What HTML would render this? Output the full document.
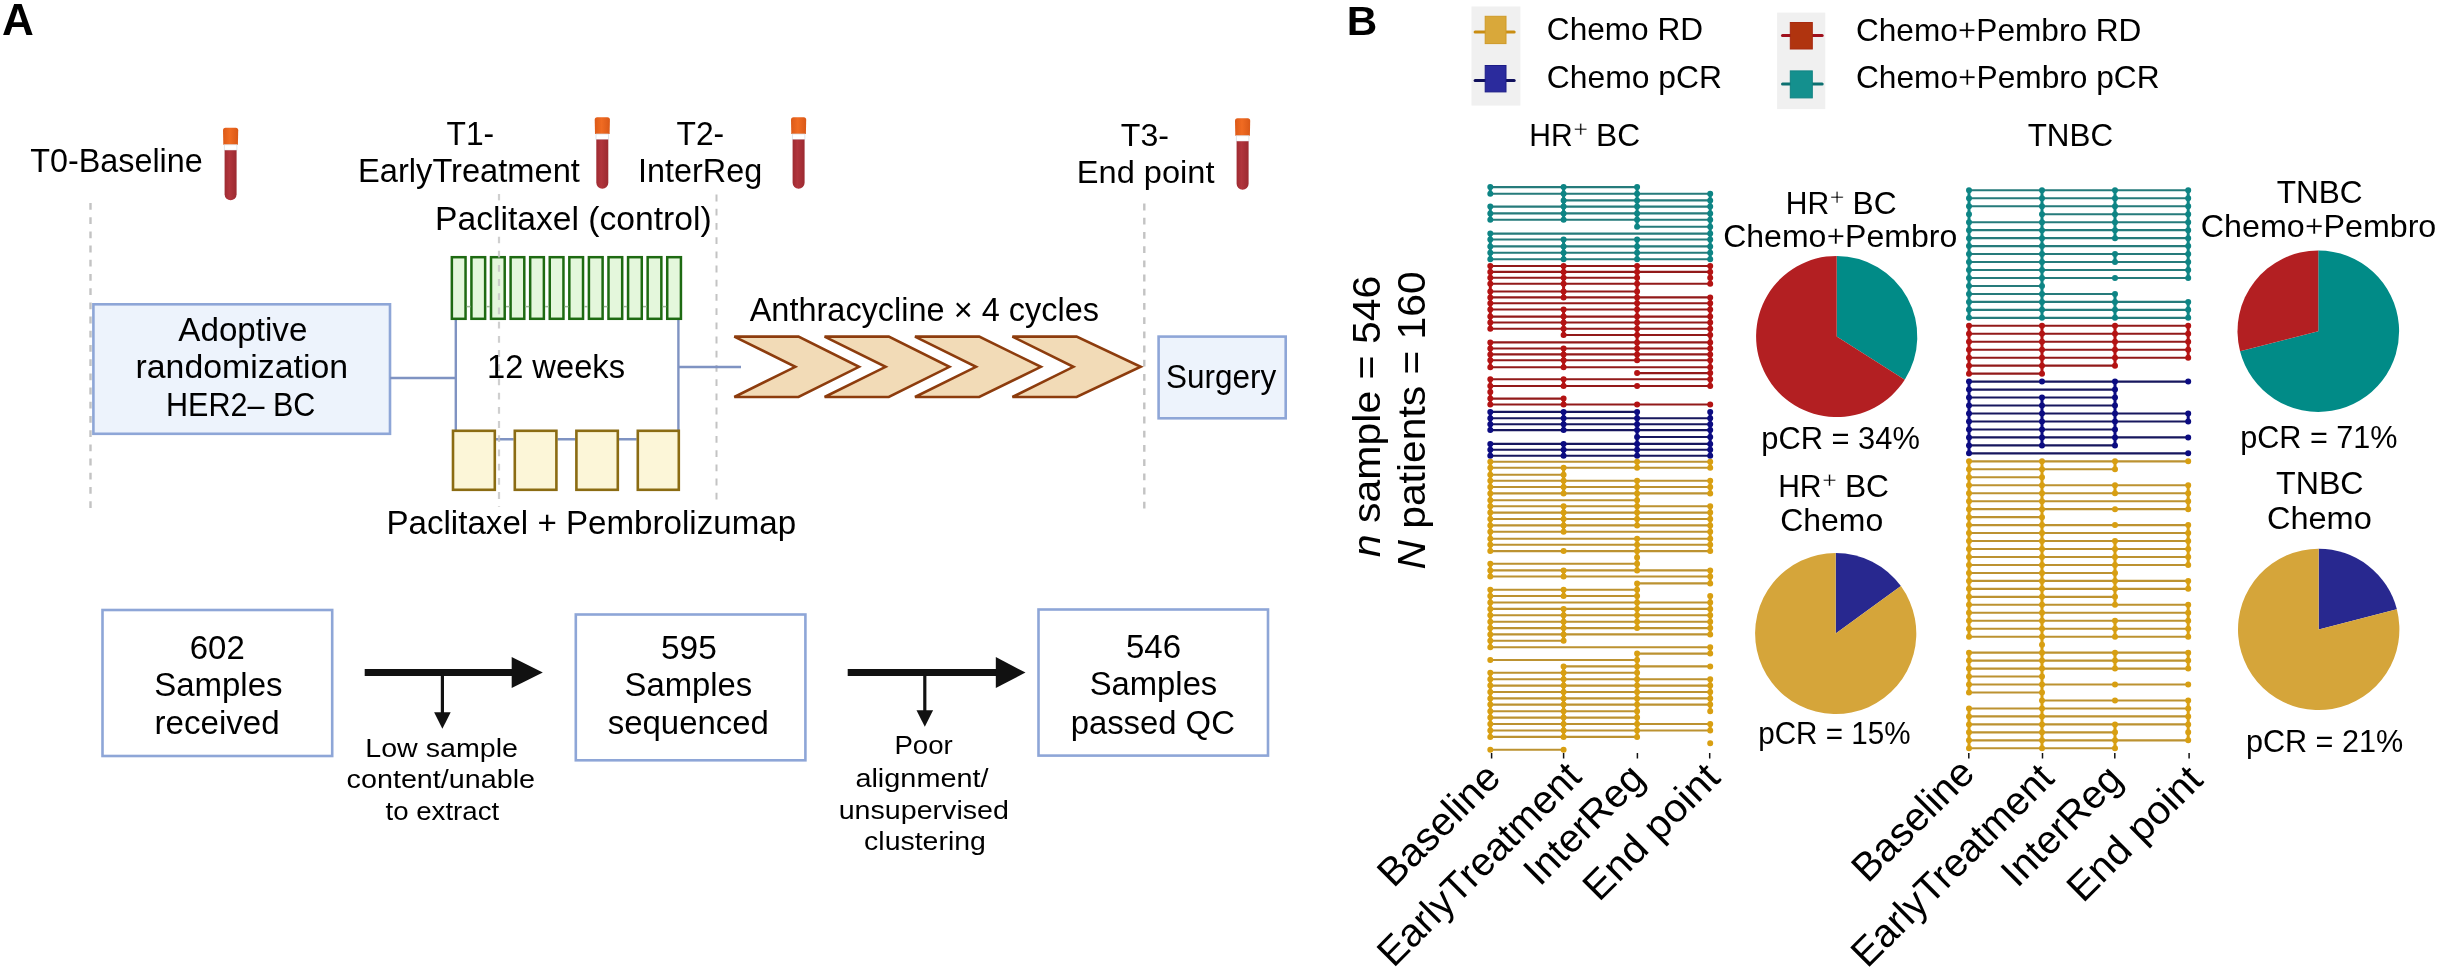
<!DOCTYPE html>
<html><head><meta charset="utf-8"><title>Figure</title>
<style>
html,body{margin:0;padding:0;background:#fff;}
svg{display:block;will-change:transform;}
text{font-family:"Liberation Sans","DejaVu Sans",sans-serif;}
</style></head>
<body>
<svg width="2440" height="973" viewBox="0 0 2440 973">
<defs><linearGradient id="capg" x1="0" x2="1" y1="0" y2="0"><stop offset="0" stop-color="#dc5a18"/><stop offset="0.45" stop-color="#f06b22"/><stop offset="1" stop-color="#d95817"/></linearGradient>
<linearGradient id="bodyg" x1="0" x2="1" y1="0" y2="0"><stop offset="0" stop-color="#9e2b32"/><stop offset="0.4" stop-color="#b1353d"/><stop offset="1" stop-color="#9c2a31"/></linearGradient></defs>
<rect width="2440" height="973" fill="#fff"/>
<line x1="90.5" y1="203" x2="90.5" y2="512" stroke="#c3c3c3" stroke-width="2.4" stroke-dasharray="6.8 7.4" fill="none"/><line x1="1144.3" y1="203.6" x2="1144.3" y2="512" stroke="#c3c3c3" stroke-width="2.4" stroke-dasharray="6.8 7.4" fill="none"/><line x1="716.5" y1="194.6" x2="716.5" y2="506" stroke="#c3c3c3" stroke-width="2.0" stroke-dasharray="6.8 7.4" fill="none"/><rect x="93.4" y="304.3" width="296.6" height="129.5" fill="#edf3fc" stroke="#8ea6d7" stroke-width="2.6"/><path d="M390 378 H455.8 M455.8 320 V430 M678.4 320 V430 M678.4 367 H741" stroke="#7f93c2" stroke-width="2.4" fill="none"/><path d="M496 439.2 H513.6 M557.6 439.2 H575.2 M619 439.2 H636.6" stroke="#7f93c2" stroke-width="2.6" fill="none"/><rect x="451.85" y="257.2" width="13.7" height="61.6" fill="#e4f7dc" stroke="#1e6a12" stroke-width="2.5"/><rect x="471.43" y="257.2" width="13.7" height="61.6" fill="#e4f7dc" stroke="#1e6a12" stroke-width="2.5"/><rect x="491.01" y="257.2" width="13.7" height="61.6" fill="#e4f7dc" stroke="#1e6a12" stroke-width="2.5"/><rect x="510.59" y="257.2" width="13.7" height="61.6" fill="#e4f7dc" stroke="#1e6a12" stroke-width="2.5"/><rect x="530.17" y="257.2" width="13.7" height="61.6" fill="#e4f7dc" stroke="#1e6a12" stroke-width="2.5"/><rect x="549.75" y="257.2" width="13.7" height="61.6" fill="#e4f7dc" stroke="#1e6a12" stroke-width="2.5"/><rect x="569.33" y="257.2" width="13.7" height="61.6" fill="#e4f7dc" stroke="#1e6a12" stroke-width="2.5"/><rect x="588.91" y="257.2" width="13.7" height="61.6" fill="#e4f7dc" stroke="#1e6a12" stroke-width="2.5"/><rect x="608.49" y="257.2" width="13.7" height="61.6" fill="#e4f7dc" stroke="#1e6a12" stroke-width="2.5"/><rect x="628.07" y="257.2" width="13.7" height="61.6" fill="#e4f7dc" stroke="#1e6a12" stroke-width="2.5"/><rect x="647.65" y="257.2" width="13.7" height="61.6" fill="#e4f7dc" stroke="#1e6a12" stroke-width="2.5"/><rect x="667.23" y="257.2" width="13.7" height="61.6" fill="#e4f7dc" stroke="#1e6a12" stroke-width="2.5"/><line x1="466.80" y1="306.6" x2="470.50" y2="306.6" stroke="#9fb89a" stroke-width="1.5"/><line x1="486.38" y1="306.6" x2="490.08" y2="306.6" stroke="#9fb89a" stroke-width="1.5"/><line x1="505.96" y1="306.6" x2="509.66" y2="306.6" stroke="#9fb89a" stroke-width="1.5"/><line x1="525.54" y1="306.6" x2="529.24" y2="306.6" stroke="#9fb89a" stroke-width="1.5"/><line x1="545.12" y1="306.6" x2="548.82" y2="306.6" stroke="#9fb89a" stroke-width="1.5"/><line x1="564.70" y1="306.6" x2="568.40" y2="306.6" stroke="#9fb89a" stroke-width="1.5"/><line x1="584.28" y1="306.6" x2="587.98" y2="306.6" stroke="#9fb89a" stroke-width="1.5"/><line x1="603.86" y1="306.6" x2="607.56" y2="306.6" stroke="#9fb89a" stroke-width="1.5"/><line x1="623.44" y1="306.6" x2="627.14" y2="306.6" stroke="#9fb89a" stroke-width="1.5"/><line x1="643.02" y1="306.6" x2="646.72" y2="306.6" stroke="#9fb89a" stroke-width="1.5"/><line x1="662.60" y1="306.6" x2="666.30" y2="306.6" stroke="#9fb89a" stroke-width="1.5"/><rect x="453.0" y="430.8" width="41.8" height="59" fill="#fcf6d8" stroke="#8b6c13" stroke-width="2.6"/><rect x="514.8" y="430.8" width="41.6" height="59" fill="#fcf6d8" stroke="#8b6c13" stroke-width="2.6"/><rect x="576.4" y="430.8" width="41.4" height="59" fill="#fcf6d8" stroke="#8b6c13" stroke-width="2.6"/><rect x="637.8" y="430.8" width="41.0" height="59" fill="#fcf6d8" stroke="#8b6c13" stroke-width="2.6"/><line x1="499" y1="193.9" x2="499" y2="507" stroke="#c3c3c3" stroke-width="2.2" stroke-dasharray="6.8 7.4" fill="none" stroke-opacity="0.8"/><rect x="437" y="200.5" width="273" height="36" fill="#fff"/><path d="M734.3 336.6 H798.5 L859 366.8 L798.5 397 H734.3 L795.3 366.8 Z" fill="#f2dbb7" stroke="#8d3c0d" stroke-width="2.6" stroke-linejoin="miter"/><path d="M824.6 336.6 H888.8000000000001 L949.4 366.8 L888.8000000000001 397 H824.6 L885.6 366.8 Z" fill="#f2dbb7" stroke="#8d3c0d" stroke-width="2.6" stroke-linejoin="miter"/><path d="M915 336.6 H979.2 L1040.9 366.8 L979.2 397 H915 L976 366.8 Z" fill="#f2dbb7" stroke="#8d3c0d" stroke-width="2.6" stroke-linejoin="miter"/><path d="M1012.4 336.6 H1076.6 L1140.7 366.8 L1076.6 397 H1012.4 L1073.4 366.8 Z" fill="#f2dbb7" stroke="#8d3c0d" stroke-width="2.6" stroke-linejoin="miter"/><rect x="1158.6" y="336.6" width="127.1" height="81.7" fill="#edf3fc" stroke="#8ea6d7" stroke-width="2.6"/><path d="M223.30 144.80 L223.00 130.30 Q223.00 127.80 225.50 127.80 H235.70 Q238.20 127.80 238.20 130.30 L237.90 144.80 Z" fill="url(#capg)"/><rect x="224.30" y="144.80" width="12.60" height="5.4" fill="#ffffff" stroke="#d3dbe2" stroke-width="0.7"/><path d="M224.60 150.20 V194.20 A6.00 6.00 0 0 0 236.60 194.20 V150.20 Z" fill="url(#bodyg)"/><path d="M595.00 134.00 L594.70 119.70 Q594.70 117.20 597.20 117.20 H607.40 Q609.90 117.20 609.90 119.70 L609.60 134.00 Z" fill="url(#capg)"/><rect x="596.00" y="134.00" width="12.60" height="5.4" fill="#ffffff" stroke="#d3dbe2" stroke-width="0.7"/><path d="M596.30 139.40 V182.70 A6.00 6.00 0 0 0 608.30 182.70 V139.40 Z" fill="url(#bodyg)"/><path d="M791.30 134.00 L791.00 119.70 Q791.00 117.20 793.50 117.20 H803.70 Q806.20 117.20 806.20 119.70 L805.90 134.00 Z" fill="url(#capg)"/><rect x="792.30" y="134.00" width="12.60" height="5.4" fill="#ffffff" stroke="#d3dbe2" stroke-width="0.7"/><path d="M792.60 139.40 V182.70 A6.00 6.00 0 0 0 804.60 182.70 V139.40 Z" fill="url(#bodyg)"/><path d="M1235.30 135.80 L1235.00 120.80 Q1235.00 118.30 1237.50 118.30 H1247.70 Q1250.20 118.30 1250.20 120.80 L1249.90 135.80 Z" fill="url(#capg)"/><rect x="1236.30" y="135.80" width="12.60" height="5.4" fill="#ffffff" stroke="#d3dbe2" stroke-width="0.7"/><path d="M1236.60 141.20 V183.80 A6.00 6.00 0 0 0 1248.60 183.80 V141.20 Z" fill="url(#bodyg)"/><rect x="102.5" y="610" width="229.7" height="146.0" fill="#fff" stroke="#8ea6d7" stroke-width="2.6"/><rect x="575.8" y="614.5" width="229.6" height="145.8" fill="#fff" stroke="#8ea6d7" stroke-width="2.6"/><rect x="1038.5" y="609.5" width="229.5" height="146.1" fill="#fff" stroke="#8ea6d7" stroke-width="2.6"/><line x1="364.7" y1="672.4" x2="513.7" y2="672.4" stroke="#111" stroke-width="7"/><path d="M511.7 656.9 L542.8 672.4 L511.7 687.9 Z" fill="#111"/><line x1="442.4" y1="672.4" x2="442.4" y2="714.7" stroke="#111" stroke-width="3.2"/><path d="M434.09999999999997 712.2 L450.7 712.2 L442.4 728.7 Z" fill="#111"/><line x1="847.7" y1="672.6" x2="997.8" y2="672.6" stroke="#111" stroke-width="7"/><path d="M995.8 657.1 L1025.5 672.6 L995.8 688.1 Z" fill="#111"/><line x1="924.8" y1="672.6" x2="924.8" y2="712.7" stroke="#111" stroke-width="3.2"/><path d="M916.5 710.2 L933.0999999999999 710.2 L924.8 726.7 Z" fill="#111"/><rect x="1471.5" y="6.5" width="48.9" height="99.1" fill="#f0f0f0"/><rect x="1777.1" y="12.6" width="48.2" height="96.5" fill="#f0f0f0"/><line x1="1475.1" y1="31.9" x2="1514.2" y2="31.9" stroke="#c98d12" stroke-width="3" stroke-linecap="round"/><rect x="1485.2" y="16.3" width="20.8" height="27.3" fill="#d9a83a" stroke="#cf9a26" stroke-width="1"/><line x1="1475.1" y1="80.6" x2="1514.2" y2="80.6" stroke="#10105c" stroke-width="3" stroke-linecap="round"/><rect x="1485.2" y="65.5" width="20.8" height="26.4" fill="#2b2b9d" stroke="#1c1c86" stroke-width="1"/><line x1="1782.5" y1="35.5" x2="1822.2" y2="35.5" stroke="#a0101c" stroke-width="3" stroke-linecap="round"/><rect x="1790.3" y="22.5" width="22.0" height="26.5" fill="#b0340f" stroke="#a82a10" stroke-width="1"/><line x1="1782.5" y1="83.9" x2="1822.2" y2="83.9" stroke="#0c7070" stroke-width="3" stroke-linecap="round"/><rect x="1790.3" y="70.9" width="22.0" height="27.0" fill="#14908e" stroke="#108383" stroke-width="1"/><path d="M1490.3 187.10V193.80M1563.6 187.10V193.80M1637.1 187.10V193.80M1563.6 193.80V200.40M1710.2 193.80V200.40M1637.1 193.80V200.40M1563.6 200.40V206.60M1710.2 200.40V206.60M1637.1 200.40V206.60M1490.3 206.60V213.40M1710.2 206.60V213.40M1563.6 206.60V213.40M1637.1 206.60V213.40M1490.3 213.40V219.80M1710.2 213.40V219.80M1563.6 213.40V219.80M1637.1 213.40V219.80M1710.2 219.80V226.70M1637.1 219.80V226.70M1710.2 226.70V233.60M1490.3 233.60V239.50M1710.2 233.60V239.50M1490.3 239.50V246.40M1710.2 239.50V246.40M1563.6 239.50V246.40M1637.1 239.50V246.40M1490.3 246.40V252.80M1710.2 246.40V252.80M1563.6 246.40V252.80M1637.1 246.40V252.80M1490.3 252.80V259.20M1710.2 252.80V259.20M1563.6 252.80V259.20M1637.1 252.80V259.20" stroke="#0e8585" stroke-width="3.0" fill="none"/><path d="M1490.3 266.00V271.90M1710.2 266.00V271.90M1563.6 266.00V271.90M1637.1 266.00V271.90M1490.3 271.90V277.70M1710.2 271.90V277.70M1563.6 271.90V277.70M1637.1 271.90V277.70M1490.3 277.70V283.80M1710.2 277.70V283.80M1563.6 277.70V283.80M1637.1 277.70V283.80M1490.3 283.80V291.50M1563.6 283.80V291.50M1637.1 283.80V291.50M1490.3 291.50V297.40M1563.6 291.50V297.40M1637.1 291.50V297.40M1490.3 297.40V303.30M1710.2 297.40V303.30M1637.1 297.40V303.30M1490.3 303.30V309.50M1710.2 303.30V309.50M1637.1 303.30V309.50M1490.3 309.50V316.60M1710.2 309.50V316.60M1563.6 309.50V316.60M1637.1 309.50V316.60M1490.3 316.60V322.50M1710.2 316.60V322.50M1563.6 316.60V322.50M1637.1 316.60V322.50M1490.3 322.50V328.70M1710.2 322.50V328.70M1563.6 322.50V328.70M1637.1 322.50V328.70M1563.6 328.70V335.00M1710.2 328.70V335.00M1637.1 328.70V335.00M1710.2 335.00V342.40M1637.1 335.00V342.40M1490.3 342.40V348.50M1710.2 342.40V348.50M1637.1 342.40V348.50M1490.3 348.50V354.40M1710.2 348.50V354.40M1563.6 348.50V354.40M1637.1 348.50V354.40M1490.3 354.40V360.30M1710.2 354.40V360.30M1563.6 354.40V360.30M1637.1 354.40V360.30M1490.3 360.30V367.30M1710.2 360.30V367.30M1563.6 360.30V367.30M1710.2 367.30V373.10M1710.2 373.10V379.20M1490.3 379.20V386.00M1710.2 379.20V386.00M1563.6 379.20V386.00M1490.3 386.00V392.00M1490.3 392.00V398.60M1490.3 398.60V404.50M1563.6 398.60V404.50" stroke="#b41313" stroke-width="3.0" fill="none"/><path d="M1490.3 411.90V418.30M1710.2 411.90V418.30M1563.6 411.90V418.30M1637.1 411.90V418.30M1490.3 418.30V424.20M1710.2 418.30V424.20M1563.6 418.30V424.20M1637.1 418.30V424.20M1490.3 424.20V430.10M1710.2 424.20V430.10M1563.6 424.20V430.10M1637.1 424.20V430.10M1710.2 430.10V437.00M1637.1 430.10V437.00M1710.2 437.00V443.90M1637.1 437.00V443.90M1490.3 443.90V449.80M1710.2 443.90V449.80M1563.6 443.90V449.80M1637.1 443.90V449.80M1490.3 449.80V455.70M1710.2 449.80V455.70M1563.6 449.80V455.70M1637.1 449.80V455.70" stroke="#0c0c82" stroke-width="3.0" fill="none"/><path d="M1490.3 461.70V467.80M1710.2 461.70V467.80M1637.1 461.70V467.80M1490.3 467.80V474.70M1563.6 467.80V474.70M1490.3 474.70V480.80M1563.6 474.70V480.80M1490.3 480.80V487.00M1710.2 480.80V487.00M1563.6 480.80V487.00M1637.1 480.80V487.00M1490.3 487.00V493.40M1710.2 487.00V493.40M1563.6 487.00V493.40M1637.1 487.00V493.40M1490.3 493.40V500.30M1637.1 493.40V500.30M1490.3 500.30V506.20M1637.1 500.30V506.20M1490.3 506.20V512.60M1710.2 506.20V512.60M1563.6 506.20V512.60M1637.1 506.20V512.60M1490.3 512.60V519.00M1710.2 512.60V519.00M1563.6 512.60V519.00M1637.1 512.60V519.00M1490.3 519.00V525.40M1710.2 519.00V525.40M1563.6 519.00V525.40M1637.1 519.00V525.40M1490.3 525.40V531.80M1710.2 525.40V531.80M1563.6 525.40V531.80M1490.3 531.80V538.70M1710.2 531.80V538.70M1490.3 538.70V544.80M1710.2 538.70V544.80M1637.1 538.70V544.80M1490.3 544.80V551.10M1710.2 544.80V551.10M1637.1 544.80V551.10M1637.1 551.10V557.50M1637.1 557.50V563.70M1490.3 563.70V570.40M1637.1 563.70V570.40M1490.3 570.40V576.50M1710.2 570.40V576.50M1563.6 570.40V576.50M1710.2 576.50V583.40M1637.1 583.40V589.80M1490.3 589.80V596.00M1563.6 589.80V596.00M1637.1 589.80V596.00M1490.3 596.00V602.50M1710.2 596.00V602.50M1637.1 596.00V602.50M1490.3 602.50V608.90M1710.2 602.50V608.90M1637.1 602.50V608.90M1490.3 608.90V615.30M1710.2 608.90V615.30M1563.6 608.90V615.30M1637.1 608.90V615.30M1490.3 615.30V621.70M1710.2 615.30V621.70M1563.6 615.30V621.70M1637.1 615.30V621.70M1490.3 621.70V628.10M1710.2 621.70V628.10M1563.6 621.70V628.10M1637.1 621.70V628.10M1490.3 628.10V634.40M1710.2 628.10V634.40M1563.6 628.10V634.40M1490.3 634.40V640.80M1563.6 634.40V640.80M1490.3 640.80V647.20M1710.2 647.20V653.60M1637.1 653.60V660.00M1637.1 660.00V666.40M1563.6 666.40V672.80M1637.1 666.40V672.80M1490.3 672.80V679.20M1563.6 672.80V679.20M1637.1 672.80V679.20M1490.3 679.20V685.60M1710.2 679.20V685.60M1563.6 679.20V685.60M1637.1 679.20V685.60M1490.3 685.60V692.00M1710.2 685.60V692.00M1563.6 685.60V692.00M1637.1 685.60V692.00M1490.3 692.00V698.40M1710.2 692.00V698.40M1563.6 692.00V698.40M1637.1 692.00V698.40M1490.3 698.40V704.60M1710.2 698.40V704.60M1563.6 698.40V704.60M1637.1 698.40V704.60M1490.3 704.60V711.20M1710.2 704.60V711.20M1563.6 704.60V711.20M1637.1 704.60V711.20M1490.3 711.20V717.60M1563.6 711.20V717.60M1637.1 711.20V717.60M1490.3 717.60V724.00M1563.6 717.60V724.00M1637.1 717.60V724.00M1490.3 724.00V730.50M1710.2 724.00V730.50M1563.6 724.00V730.50M1637.1 724.00V730.50M1490.3 730.50V736.90M1563.6 730.50V736.90M1637.1 730.50V736.90" stroke="#d89f12" stroke-width="3.0" fill="none"/><path d="M1490.3 187.10H1637.1M1490.3 193.80H1710.2M1563.6 200.40H1710.2M1490.3 206.60H1710.2M1490.3 213.40H1710.2M1490.3 219.80H1710.2M1637.1 226.70H1710.2M1490.3 233.60H1710.2M1490.3 239.50H1710.2M1490.3 246.40H1710.2M1490.3 252.80H1710.2M1490.3 259.20H1710.2" stroke="#267b7b" stroke-width="2.1" fill="none"/><path d="M1490.3 266.00H1710.2M1490.3 271.90H1710.2M1490.3 277.70H1637.1M1490.3 283.80H1710.2M1490.3 291.50H1637.1M1490.3 297.40H1710.2M1490.3 303.30H1710.2M1490.3 309.50H1710.2M1490.3 316.60H1710.2M1490.3 322.50H1710.2M1490.3 328.70H1710.2M1563.6 335.00H1710.2M1490.3 342.40H1710.2M1490.3 348.50H1710.2M1490.3 354.40H1710.2M1490.3 360.30H1710.2M1490.3 367.30H1710.2M1637.1 373.10H1710.2M1490.3 379.20H1710.2M1490.3 386.00H1710.2M1490.3 398.60H1563.6M1490.3 404.50H1710.2" stroke="#921a1a" stroke-width="2.1" fill="none"/><path d="M1490.3 411.90H1637.1M1490.3 418.30H1710.2M1490.3 424.20H1710.2M1490.3 430.10H1710.2M1637.1 437.00H1710.2M1490.3 443.90H1710.2M1490.3 449.80H1710.2M1490.3 455.70H1710.2" stroke="#17175e" stroke-width="2.1" fill="none"/><path d="M1490.3 461.70H1710.2M1490.3 467.80H1710.2M1490.3 474.70H1563.6M1490.3 480.80H1710.2M1490.3 487.00H1710.2M1490.3 493.40H1710.2M1490.3 500.30H1637.1M1490.3 506.20H1710.2M1490.3 512.60H1710.2M1490.3 519.00H1710.2M1490.3 525.40H1710.2M1490.3 531.80H1710.2M1490.3 538.70H1710.2M1490.3 544.80H1710.2M1490.3 551.10H1710.2M1490.3 563.70H1637.1M1490.3 570.40H1710.2M1490.3 576.50H1710.2M1637.1 583.40H1710.2M1490.3 589.80H1637.1M1490.3 596.00H1637.1M1490.3 602.50H1710.2M1490.3 608.90H1710.2M1490.3 615.30H1710.2M1490.3 621.70H1710.2M1490.3 628.10H1710.2M1490.3 634.40H1710.2M1490.3 640.80H1563.6M1490.3 647.20H1710.2M1637.1 653.60H1710.2M1490.3 660.00H1637.1M1563.6 666.40H1710.2M1490.3 672.80H1637.1M1490.3 679.20H1710.2M1490.3 685.60H1710.2M1490.3 692.00H1710.2M1490.3 698.40H1710.2M1490.3 704.60H1710.2M1490.3 711.20H1637.1M1490.3 717.60H1637.1M1490.3 724.00H1710.2M1490.3 730.50H1710.2M1490.3 736.90H1637.1M1490.3 749.70H1563.6" stroke="#bc9231" stroke-width="2.1" fill="none"/><path d="M1487.3 187.10a3.0 3.0 0 1 0 6.0 0a3.0 3.0 0 1 0 -6.0 0M1560.6 187.10a3.0 3.0 0 1 0 6.0 0a3.0 3.0 0 1 0 -6.0 0M1634.1 187.10a3.0 3.0 0 1 0 6.0 0a3.0 3.0 0 1 0 -6.0 0M1487.3 193.80a3.0 3.0 0 1 0 6.0 0a3.0 3.0 0 1 0 -6.0 0M1560.6 193.80a3.0 3.0 0 1 0 6.0 0a3.0 3.0 0 1 0 -6.0 0M1634.1 193.80a3.0 3.0 0 1 0 6.0 0a3.0 3.0 0 1 0 -6.0 0M1707.2 193.80a3.0 3.0 0 1 0 6.0 0a3.0 3.0 0 1 0 -6.0 0M1560.6 200.40a3.0 3.0 0 1 0 6.0 0a3.0 3.0 0 1 0 -6.0 0M1634.1 200.40a3.0 3.0 0 1 0 6.0 0a3.0 3.0 0 1 0 -6.0 0M1707.2 200.40a3.0 3.0 0 1 0 6.0 0a3.0 3.0 0 1 0 -6.0 0M1487.3 206.60a3.0 3.0 0 1 0 6.0 0a3.0 3.0 0 1 0 -6.0 0M1560.6 206.60a3.0 3.0 0 1 0 6.0 0a3.0 3.0 0 1 0 -6.0 0M1634.1 206.60a3.0 3.0 0 1 0 6.0 0a3.0 3.0 0 1 0 -6.0 0M1707.2 206.60a3.0 3.0 0 1 0 6.0 0a3.0 3.0 0 1 0 -6.0 0M1487.3 213.40a3.0 3.0 0 1 0 6.0 0a3.0 3.0 0 1 0 -6.0 0M1560.6 213.40a3.0 3.0 0 1 0 6.0 0a3.0 3.0 0 1 0 -6.0 0M1634.1 213.40a3.0 3.0 0 1 0 6.0 0a3.0 3.0 0 1 0 -6.0 0M1707.2 213.40a3.0 3.0 0 1 0 6.0 0a3.0 3.0 0 1 0 -6.0 0M1487.3 219.80a3.0 3.0 0 1 0 6.0 0a3.0 3.0 0 1 0 -6.0 0M1560.6 219.80a3.0 3.0 0 1 0 6.0 0a3.0 3.0 0 1 0 -6.0 0M1634.1 219.80a3.0 3.0 0 1 0 6.0 0a3.0 3.0 0 1 0 -6.0 0M1707.2 219.80a3.0 3.0 0 1 0 6.0 0a3.0 3.0 0 1 0 -6.0 0M1634.1 226.70a3.0 3.0 0 1 0 6.0 0a3.0 3.0 0 1 0 -6.0 0M1707.2 226.70a3.0 3.0 0 1 0 6.0 0a3.0 3.0 0 1 0 -6.0 0M1487.3 233.60a3.0 3.0 0 1 0 6.0 0a3.0 3.0 0 1 0 -6.0 0M1707.2 233.60a3.0 3.0 0 1 0 6.0 0a3.0 3.0 0 1 0 -6.0 0M1487.3 239.50a3.0 3.0 0 1 0 6.0 0a3.0 3.0 0 1 0 -6.0 0M1560.6 239.50a3.0 3.0 0 1 0 6.0 0a3.0 3.0 0 1 0 -6.0 0M1634.1 239.50a3.0 3.0 0 1 0 6.0 0a3.0 3.0 0 1 0 -6.0 0M1707.2 239.50a3.0 3.0 0 1 0 6.0 0a3.0 3.0 0 1 0 -6.0 0M1487.3 246.40a3.0 3.0 0 1 0 6.0 0a3.0 3.0 0 1 0 -6.0 0M1560.6 246.40a3.0 3.0 0 1 0 6.0 0a3.0 3.0 0 1 0 -6.0 0M1634.1 246.40a3.0 3.0 0 1 0 6.0 0a3.0 3.0 0 1 0 -6.0 0M1707.2 246.40a3.0 3.0 0 1 0 6.0 0a3.0 3.0 0 1 0 -6.0 0M1487.3 252.80a3.0 3.0 0 1 0 6.0 0a3.0 3.0 0 1 0 -6.0 0M1560.6 252.80a3.0 3.0 0 1 0 6.0 0a3.0 3.0 0 1 0 -6.0 0M1634.1 252.80a3.0 3.0 0 1 0 6.0 0a3.0 3.0 0 1 0 -6.0 0M1707.2 252.80a3.0 3.0 0 1 0 6.0 0a3.0 3.0 0 1 0 -6.0 0M1487.3 259.20a3.0 3.0 0 1 0 6.0 0a3.0 3.0 0 1 0 -6.0 0M1560.6 259.20a3.0 3.0 0 1 0 6.0 0a3.0 3.0 0 1 0 -6.0 0M1634.1 259.20a3.0 3.0 0 1 0 6.0 0a3.0 3.0 0 1 0 -6.0 0M1707.2 259.20a3.0 3.0 0 1 0 6.0 0a3.0 3.0 0 1 0 -6.0 0" fill="#0e8585"/><path d="M1487.3 266.00a3.0 3.0 0 1 0 6.0 0a3.0 3.0 0 1 0 -6.0 0M1560.6 266.00a3.0 3.0 0 1 0 6.0 0a3.0 3.0 0 1 0 -6.0 0M1634.1 266.00a3.0 3.0 0 1 0 6.0 0a3.0 3.0 0 1 0 -6.0 0M1707.2 266.00a3.0 3.0 0 1 0 6.0 0a3.0 3.0 0 1 0 -6.0 0M1487.3 271.90a3.0 3.0 0 1 0 6.0 0a3.0 3.0 0 1 0 -6.0 0M1560.6 271.90a3.0 3.0 0 1 0 6.0 0a3.0 3.0 0 1 0 -6.0 0M1634.1 271.90a3.0 3.0 0 1 0 6.0 0a3.0 3.0 0 1 0 -6.0 0M1707.2 271.90a3.0 3.0 0 1 0 6.0 0a3.0 3.0 0 1 0 -6.0 0M1487.3 277.70a3.0 3.0 0 1 0 6.0 0a3.0 3.0 0 1 0 -6.0 0M1560.6 277.70a3.0 3.0 0 1 0 6.0 0a3.0 3.0 0 1 0 -6.0 0M1634.1 277.70a3.0 3.0 0 1 0 6.0 0a3.0 3.0 0 1 0 -6.0 0M1707.2 277.70a3.0 3.0 0 1 0 6.0 0a3.0 3.0 0 1 0 -6.0 0M1487.3 283.80a3.0 3.0 0 1 0 6.0 0a3.0 3.0 0 1 0 -6.0 0M1560.6 283.80a3.0 3.0 0 1 0 6.0 0a3.0 3.0 0 1 0 -6.0 0M1634.1 283.80a3.0 3.0 0 1 0 6.0 0a3.0 3.0 0 1 0 -6.0 0M1707.2 283.80a3.0 3.0 0 1 0 6.0 0a3.0 3.0 0 1 0 -6.0 0M1487.3 291.50a3.0 3.0 0 1 0 6.0 0a3.0 3.0 0 1 0 -6.0 0M1560.6 291.50a3.0 3.0 0 1 0 6.0 0a3.0 3.0 0 1 0 -6.0 0M1634.1 291.50a3.0 3.0 0 1 0 6.0 0a3.0 3.0 0 1 0 -6.0 0M1487.3 297.40a3.0 3.0 0 1 0 6.0 0a3.0 3.0 0 1 0 -6.0 0M1560.6 297.40a3.0 3.0 0 1 0 6.0 0a3.0 3.0 0 1 0 -6.0 0M1634.1 297.40a3.0 3.0 0 1 0 6.0 0a3.0 3.0 0 1 0 -6.0 0M1707.2 297.40a3.0 3.0 0 1 0 6.0 0a3.0 3.0 0 1 0 -6.0 0M1487.3 303.30a3.0 3.0 0 1 0 6.0 0a3.0 3.0 0 1 0 -6.0 0M1634.1 303.30a3.0 3.0 0 1 0 6.0 0a3.0 3.0 0 1 0 -6.0 0M1707.2 303.30a3.0 3.0 0 1 0 6.0 0a3.0 3.0 0 1 0 -6.0 0M1487.3 309.50a3.0 3.0 0 1 0 6.0 0a3.0 3.0 0 1 0 -6.0 0M1560.6 309.50a3.0 3.0 0 1 0 6.0 0a3.0 3.0 0 1 0 -6.0 0M1634.1 309.50a3.0 3.0 0 1 0 6.0 0a3.0 3.0 0 1 0 -6.0 0M1707.2 309.50a3.0 3.0 0 1 0 6.0 0a3.0 3.0 0 1 0 -6.0 0M1487.3 316.60a3.0 3.0 0 1 0 6.0 0a3.0 3.0 0 1 0 -6.0 0M1560.6 316.60a3.0 3.0 0 1 0 6.0 0a3.0 3.0 0 1 0 -6.0 0M1634.1 316.60a3.0 3.0 0 1 0 6.0 0a3.0 3.0 0 1 0 -6.0 0M1707.2 316.60a3.0 3.0 0 1 0 6.0 0a3.0 3.0 0 1 0 -6.0 0M1487.3 322.50a3.0 3.0 0 1 0 6.0 0a3.0 3.0 0 1 0 -6.0 0M1560.6 322.50a3.0 3.0 0 1 0 6.0 0a3.0 3.0 0 1 0 -6.0 0M1634.1 322.50a3.0 3.0 0 1 0 6.0 0a3.0 3.0 0 1 0 -6.0 0M1707.2 322.50a3.0 3.0 0 1 0 6.0 0a3.0 3.0 0 1 0 -6.0 0M1487.3 328.70a3.0 3.0 0 1 0 6.0 0a3.0 3.0 0 1 0 -6.0 0M1560.6 328.70a3.0 3.0 0 1 0 6.0 0a3.0 3.0 0 1 0 -6.0 0M1634.1 328.70a3.0 3.0 0 1 0 6.0 0a3.0 3.0 0 1 0 -6.0 0M1707.2 328.70a3.0 3.0 0 1 0 6.0 0a3.0 3.0 0 1 0 -6.0 0M1560.6 335.00a3.0 3.0 0 1 0 6.0 0a3.0 3.0 0 1 0 -6.0 0M1634.1 335.00a3.0 3.0 0 1 0 6.0 0a3.0 3.0 0 1 0 -6.0 0M1707.2 335.00a3.0 3.0 0 1 0 6.0 0a3.0 3.0 0 1 0 -6.0 0M1487.3 342.40a3.0 3.0 0 1 0 6.0 0a3.0 3.0 0 1 0 -6.0 0M1634.1 342.40a3.0 3.0 0 1 0 6.0 0a3.0 3.0 0 1 0 -6.0 0M1707.2 342.40a3.0 3.0 0 1 0 6.0 0a3.0 3.0 0 1 0 -6.0 0M1487.3 348.50a3.0 3.0 0 1 0 6.0 0a3.0 3.0 0 1 0 -6.0 0M1560.6 348.50a3.0 3.0 0 1 0 6.0 0a3.0 3.0 0 1 0 -6.0 0M1634.1 348.50a3.0 3.0 0 1 0 6.0 0a3.0 3.0 0 1 0 -6.0 0M1707.2 348.50a3.0 3.0 0 1 0 6.0 0a3.0 3.0 0 1 0 -6.0 0M1487.3 354.40a3.0 3.0 0 1 0 6.0 0a3.0 3.0 0 1 0 -6.0 0M1560.6 354.40a3.0 3.0 0 1 0 6.0 0a3.0 3.0 0 1 0 -6.0 0M1634.1 354.40a3.0 3.0 0 1 0 6.0 0a3.0 3.0 0 1 0 -6.0 0M1707.2 354.40a3.0 3.0 0 1 0 6.0 0a3.0 3.0 0 1 0 -6.0 0M1487.3 360.30a3.0 3.0 0 1 0 6.0 0a3.0 3.0 0 1 0 -6.0 0M1560.6 360.30a3.0 3.0 0 1 0 6.0 0a3.0 3.0 0 1 0 -6.0 0M1634.1 360.30a3.0 3.0 0 1 0 6.0 0a3.0 3.0 0 1 0 -6.0 0M1707.2 360.30a3.0 3.0 0 1 0 6.0 0a3.0 3.0 0 1 0 -6.0 0M1487.3 367.30a3.0 3.0 0 1 0 6.0 0a3.0 3.0 0 1 0 -6.0 0M1560.6 367.30a3.0 3.0 0 1 0 6.0 0a3.0 3.0 0 1 0 -6.0 0M1707.2 367.30a3.0 3.0 0 1 0 6.0 0a3.0 3.0 0 1 0 -6.0 0M1634.1 373.10a3.0 3.0 0 1 0 6.0 0a3.0 3.0 0 1 0 -6.0 0M1707.2 373.10a3.0 3.0 0 1 0 6.0 0a3.0 3.0 0 1 0 -6.0 0M1487.3 379.20a3.0 3.0 0 1 0 6.0 0a3.0 3.0 0 1 0 -6.0 0M1560.6 379.20a3.0 3.0 0 1 0 6.0 0a3.0 3.0 0 1 0 -6.0 0M1707.2 379.20a3.0 3.0 0 1 0 6.0 0a3.0 3.0 0 1 0 -6.0 0M1487.3 386.00a3.0 3.0 0 1 0 6.0 0a3.0 3.0 0 1 0 -6.0 0M1560.6 386.00a3.0 3.0 0 1 0 6.0 0a3.0 3.0 0 1 0 -6.0 0M1634.1 386.00a3.0 3.0 0 1 0 6.0 0a3.0 3.0 0 1 0 -6.0 0M1707.2 386.00a3.0 3.0 0 1 0 6.0 0a3.0 3.0 0 1 0 -6.0 0M1487.3 392.00a3.0 3.0 0 1 0 6.0 0a3.0 3.0 0 1 0 -6.0 0M1487.3 398.60a3.0 3.0 0 1 0 6.0 0a3.0 3.0 0 1 0 -6.0 0M1560.6 398.60a3.0 3.0 0 1 0 6.0 0a3.0 3.0 0 1 0 -6.0 0M1487.3 404.50a3.0 3.0 0 1 0 6.0 0a3.0 3.0 0 1 0 -6.0 0M1560.6 404.50a3.0 3.0 0 1 0 6.0 0a3.0 3.0 0 1 0 -6.0 0M1634.1 404.50a3.0 3.0 0 1 0 6.0 0a3.0 3.0 0 1 0 -6.0 0M1707.2 404.50a3.0 3.0 0 1 0 6.0 0a3.0 3.0 0 1 0 -6.0 0" fill="#b41313"/><path d="M1487.3 411.90a3.0 3.0 0 1 0 6.0 0a3.0 3.0 0 1 0 -6.0 0M1560.6 411.90a3.0 3.0 0 1 0 6.0 0a3.0 3.0 0 1 0 -6.0 0M1634.1 411.90a3.0 3.0 0 1 0 6.0 0a3.0 3.0 0 1 0 -6.0 0M1707.2 411.90a3.0 3.0 0 1 0 6.0 0a3.0 3.0 0 1 0 -6.0 0M1487.3 418.30a3.0 3.0 0 1 0 6.0 0a3.0 3.0 0 1 0 -6.0 0M1560.6 418.30a3.0 3.0 0 1 0 6.0 0a3.0 3.0 0 1 0 -6.0 0M1634.1 418.30a3.0 3.0 0 1 0 6.0 0a3.0 3.0 0 1 0 -6.0 0M1707.2 418.30a3.0 3.0 0 1 0 6.0 0a3.0 3.0 0 1 0 -6.0 0M1487.3 424.20a3.0 3.0 0 1 0 6.0 0a3.0 3.0 0 1 0 -6.0 0M1560.6 424.20a3.0 3.0 0 1 0 6.0 0a3.0 3.0 0 1 0 -6.0 0M1634.1 424.20a3.0 3.0 0 1 0 6.0 0a3.0 3.0 0 1 0 -6.0 0M1707.2 424.20a3.0 3.0 0 1 0 6.0 0a3.0 3.0 0 1 0 -6.0 0M1487.3 430.10a3.0 3.0 0 1 0 6.0 0a3.0 3.0 0 1 0 -6.0 0M1560.6 430.10a3.0 3.0 0 1 0 6.0 0a3.0 3.0 0 1 0 -6.0 0M1634.1 430.10a3.0 3.0 0 1 0 6.0 0a3.0 3.0 0 1 0 -6.0 0M1707.2 430.10a3.0 3.0 0 1 0 6.0 0a3.0 3.0 0 1 0 -6.0 0M1634.1 437.00a3.0 3.0 0 1 0 6.0 0a3.0 3.0 0 1 0 -6.0 0M1707.2 437.00a3.0 3.0 0 1 0 6.0 0a3.0 3.0 0 1 0 -6.0 0M1487.3 443.90a3.0 3.0 0 1 0 6.0 0a3.0 3.0 0 1 0 -6.0 0M1560.6 443.90a3.0 3.0 0 1 0 6.0 0a3.0 3.0 0 1 0 -6.0 0M1634.1 443.90a3.0 3.0 0 1 0 6.0 0a3.0 3.0 0 1 0 -6.0 0M1707.2 443.90a3.0 3.0 0 1 0 6.0 0a3.0 3.0 0 1 0 -6.0 0M1487.3 449.80a3.0 3.0 0 1 0 6.0 0a3.0 3.0 0 1 0 -6.0 0M1560.6 449.80a3.0 3.0 0 1 0 6.0 0a3.0 3.0 0 1 0 -6.0 0M1634.1 449.80a3.0 3.0 0 1 0 6.0 0a3.0 3.0 0 1 0 -6.0 0M1707.2 449.80a3.0 3.0 0 1 0 6.0 0a3.0 3.0 0 1 0 -6.0 0M1487.3 455.70a3.0 3.0 0 1 0 6.0 0a3.0 3.0 0 1 0 -6.0 0M1560.6 455.70a3.0 3.0 0 1 0 6.0 0a3.0 3.0 0 1 0 -6.0 0M1634.1 455.70a3.0 3.0 0 1 0 6.0 0a3.0 3.0 0 1 0 -6.0 0M1707.2 455.70a3.0 3.0 0 1 0 6.0 0a3.0 3.0 0 1 0 -6.0 0" fill="#0c0c82"/><path d="M1487.3 461.70a3.0 3.0 0 1 0 6.0 0a3.0 3.0 0 1 0 -6.0 0M1634.1 461.70a3.0 3.0 0 1 0 6.0 0a3.0 3.0 0 1 0 -6.0 0M1707.2 461.70a3.0 3.0 0 1 0 6.0 0a3.0 3.0 0 1 0 -6.0 0M1487.3 467.80a3.0 3.0 0 1 0 6.0 0a3.0 3.0 0 1 0 -6.0 0M1560.6 467.80a3.0 3.0 0 1 0 6.0 0a3.0 3.0 0 1 0 -6.0 0M1634.1 467.80a3.0 3.0 0 1 0 6.0 0a3.0 3.0 0 1 0 -6.0 0M1707.2 467.80a3.0 3.0 0 1 0 6.0 0a3.0 3.0 0 1 0 -6.0 0M1487.3 474.70a3.0 3.0 0 1 0 6.0 0a3.0 3.0 0 1 0 -6.0 0M1560.6 474.70a3.0 3.0 0 1 0 6.0 0a3.0 3.0 0 1 0 -6.0 0M1487.3 480.80a3.0 3.0 0 1 0 6.0 0a3.0 3.0 0 1 0 -6.0 0M1560.6 480.80a3.0 3.0 0 1 0 6.0 0a3.0 3.0 0 1 0 -6.0 0M1634.1 480.80a3.0 3.0 0 1 0 6.0 0a3.0 3.0 0 1 0 -6.0 0M1707.2 480.80a3.0 3.0 0 1 0 6.0 0a3.0 3.0 0 1 0 -6.0 0M1487.3 487.00a3.0 3.0 0 1 0 6.0 0a3.0 3.0 0 1 0 -6.0 0M1560.6 487.00a3.0 3.0 0 1 0 6.0 0a3.0 3.0 0 1 0 -6.0 0M1634.1 487.00a3.0 3.0 0 1 0 6.0 0a3.0 3.0 0 1 0 -6.0 0M1707.2 487.00a3.0 3.0 0 1 0 6.0 0a3.0 3.0 0 1 0 -6.0 0M1487.3 493.40a3.0 3.0 0 1 0 6.0 0a3.0 3.0 0 1 0 -6.0 0M1560.6 493.40a3.0 3.0 0 1 0 6.0 0a3.0 3.0 0 1 0 -6.0 0M1634.1 493.40a3.0 3.0 0 1 0 6.0 0a3.0 3.0 0 1 0 -6.0 0M1707.2 493.40a3.0 3.0 0 1 0 6.0 0a3.0 3.0 0 1 0 -6.0 0M1487.3 500.30a3.0 3.0 0 1 0 6.0 0a3.0 3.0 0 1 0 -6.0 0M1634.1 500.30a3.0 3.0 0 1 0 6.0 0a3.0 3.0 0 1 0 -6.0 0M1487.3 506.20a3.0 3.0 0 1 0 6.0 0a3.0 3.0 0 1 0 -6.0 0M1560.6 506.20a3.0 3.0 0 1 0 6.0 0a3.0 3.0 0 1 0 -6.0 0M1634.1 506.20a3.0 3.0 0 1 0 6.0 0a3.0 3.0 0 1 0 -6.0 0M1707.2 506.20a3.0 3.0 0 1 0 6.0 0a3.0 3.0 0 1 0 -6.0 0M1487.3 512.60a3.0 3.0 0 1 0 6.0 0a3.0 3.0 0 1 0 -6.0 0M1560.6 512.60a3.0 3.0 0 1 0 6.0 0a3.0 3.0 0 1 0 -6.0 0M1634.1 512.60a3.0 3.0 0 1 0 6.0 0a3.0 3.0 0 1 0 -6.0 0M1707.2 512.60a3.0 3.0 0 1 0 6.0 0a3.0 3.0 0 1 0 -6.0 0M1487.3 519.00a3.0 3.0 0 1 0 6.0 0a3.0 3.0 0 1 0 -6.0 0M1560.6 519.00a3.0 3.0 0 1 0 6.0 0a3.0 3.0 0 1 0 -6.0 0M1634.1 519.00a3.0 3.0 0 1 0 6.0 0a3.0 3.0 0 1 0 -6.0 0M1707.2 519.00a3.0 3.0 0 1 0 6.0 0a3.0 3.0 0 1 0 -6.0 0M1487.3 525.40a3.0 3.0 0 1 0 6.0 0a3.0 3.0 0 1 0 -6.0 0M1560.6 525.40a3.0 3.0 0 1 0 6.0 0a3.0 3.0 0 1 0 -6.0 0M1634.1 525.40a3.0 3.0 0 1 0 6.0 0a3.0 3.0 0 1 0 -6.0 0M1707.2 525.40a3.0 3.0 0 1 0 6.0 0a3.0 3.0 0 1 0 -6.0 0M1487.3 531.80a3.0 3.0 0 1 0 6.0 0a3.0 3.0 0 1 0 -6.0 0M1560.6 531.80a3.0 3.0 0 1 0 6.0 0a3.0 3.0 0 1 0 -6.0 0M1707.2 531.80a3.0 3.0 0 1 0 6.0 0a3.0 3.0 0 1 0 -6.0 0M1487.3 538.70a3.0 3.0 0 1 0 6.0 0a3.0 3.0 0 1 0 -6.0 0M1634.1 538.70a3.0 3.0 0 1 0 6.0 0a3.0 3.0 0 1 0 -6.0 0M1707.2 538.70a3.0 3.0 0 1 0 6.0 0a3.0 3.0 0 1 0 -6.0 0M1487.3 544.80a3.0 3.0 0 1 0 6.0 0a3.0 3.0 0 1 0 -6.0 0M1634.1 544.80a3.0 3.0 0 1 0 6.0 0a3.0 3.0 0 1 0 -6.0 0M1707.2 544.80a3.0 3.0 0 1 0 6.0 0a3.0 3.0 0 1 0 -6.0 0M1487.3 551.10a3.0 3.0 0 1 0 6.0 0a3.0 3.0 0 1 0 -6.0 0M1560.6 551.10a3.0 3.0 0 1 0 6.0 0a3.0 3.0 0 1 0 -6.0 0M1634.1 551.10a3.0 3.0 0 1 0 6.0 0a3.0 3.0 0 1 0 -6.0 0M1707.2 551.10a3.0 3.0 0 1 0 6.0 0a3.0 3.0 0 1 0 -6.0 0M1634.1 557.50a3.0 3.0 0 1 0 6.0 0a3.0 3.0 0 1 0 -6.0 0M1487.3 563.70a3.0 3.0 0 1 0 6.0 0a3.0 3.0 0 1 0 -6.0 0M1634.1 563.70a3.0 3.0 0 1 0 6.0 0a3.0 3.0 0 1 0 -6.0 0M1487.3 570.40a3.0 3.0 0 1 0 6.0 0a3.0 3.0 0 1 0 -6.0 0M1560.6 570.40a3.0 3.0 0 1 0 6.0 0a3.0 3.0 0 1 0 -6.0 0M1634.1 570.40a3.0 3.0 0 1 0 6.0 0a3.0 3.0 0 1 0 -6.0 0M1707.2 570.40a3.0 3.0 0 1 0 6.0 0a3.0 3.0 0 1 0 -6.0 0M1487.3 576.50a3.0 3.0 0 1 0 6.0 0a3.0 3.0 0 1 0 -6.0 0M1560.6 576.50a3.0 3.0 0 1 0 6.0 0a3.0 3.0 0 1 0 -6.0 0M1707.2 576.50a3.0 3.0 0 1 0 6.0 0a3.0 3.0 0 1 0 -6.0 0M1634.1 583.40a3.0 3.0 0 1 0 6.0 0a3.0 3.0 0 1 0 -6.0 0M1707.2 583.40a3.0 3.0 0 1 0 6.0 0a3.0 3.0 0 1 0 -6.0 0M1487.3 589.80a3.0 3.0 0 1 0 6.0 0a3.0 3.0 0 1 0 -6.0 0M1560.6 589.80a3.0 3.0 0 1 0 6.0 0a3.0 3.0 0 1 0 -6.0 0M1634.1 589.80a3.0 3.0 0 1 0 6.0 0a3.0 3.0 0 1 0 -6.0 0M1487.3 596.00a3.0 3.0 0 1 0 6.0 0a3.0 3.0 0 1 0 -6.0 0M1560.6 596.00a3.0 3.0 0 1 0 6.0 0a3.0 3.0 0 1 0 -6.0 0M1634.1 596.00a3.0 3.0 0 1 0 6.0 0a3.0 3.0 0 1 0 -6.0 0M1707.2 596.00a3.0 3.0 0 1 0 6.0 0a3.0 3.0 0 1 0 -6.0 0M1487.3 602.50a3.0 3.0 0 1 0 6.0 0a3.0 3.0 0 1 0 -6.0 0M1634.1 602.50a3.0 3.0 0 1 0 6.0 0a3.0 3.0 0 1 0 -6.0 0M1707.2 602.50a3.0 3.0 0 1 0 6.0 0a3.0 3.0 0 1 0 -6.0 0M1487.3 608.90a3.0 3.0 0 1 0 6.0 0a3.0 3.0 0 1 0 -6.0 0M1560.6 608.90a3.0 3.0 0 1 0 6.0 0a3.0 3.0 0 1 0 -6.0 0M1634.1 608.90a3.0 3.0 0 1 0 6.0 0a3.0 3.0 0 1 0 -6.0 0M1707.2 608.90a3.0 3.0 0 1 0 6.0 0a3.0 3.0 0 1 0 -6.0 0M1487.3 615.30a3.0 3.0 0 1 0 6.0 0a3.0 3.0 0 1 0 -6.0 0M1560.6 615.30a3.0 3.0 0 1 0 6.0 0a3.0 3.0 0 1 0 -6.0 0M1634.1 615.30a3.0 3.0 0 1 0 6.0 0a3.0 3.0 0 1 0 -6.0 0M1707.2 615.30a3.0 3.0 0 1 0 6.0 0a3.0 3.0 0 1 0 -6.0 0M1487.3 621.70a3.0 3.0 0 1 0 6.0 0a3.0 3.0 0 1 0 -6.0 0M1560.6 621.70a3.0 3.0 0 1 0 6.0 0a3.0 3.0 0 1 0 -6.0 0M1634.1 621.70a3.0 3.0 0 1 0 6.0 0a3.0 3.0 0 1 0 -6.0 0M1707.2 621.70a3.0 3.0 0 1 0 6.0 0a3.0 3.0 0 1 0 -6.0 0M1487.3 628.10a3.0 3.0 0 1 0 6.0 0a3.0 3.0 0 1 0 -6.0 0M1560.6 628.10a3.0 3.0 0 1 0 6.0 0a3.0 3.0 0 1 0 -6.0 0M1634.1 628.10a3.0 3.0 0 1 0 6.0 0a3.0 3.0 0 1 0 -6.0 0M1707.2 628.10a3.0 3.0 0 1 0 6.0 0a3.0 3.0 0 1 0 -6.0 0M1487.3 634.40a3.0 3.0 0 1 0 6.0 0a3.0 3.0 0 1 0 -6.0 0M1560.6 634.40a3.0 3.0 0 1 0 6.0 0a3.0 3.0 0 1 0 -6.0 0M1707.2 634.40a3.0 3.0 0 1 0 6.0 0a3.0 3.0 0 1 0 -6.0 0M1487.3 640.80a3.0 3.0 0 1 0 6.0 0a3.0 3.0 0 1 0 -6.0 0M1560.6 640.80a3.0 3.0 0 1 0 6.0 0a3.0 3.0 0 1 0 -6.0 0M1487.3 647.20a3.0 3.0 0 1 0 6.0 0a3.0 3.0 0 1 0 -6.0 0M1707.2 647.20a3.0 3.0 0 1 0 6.0 0a3.0 3.0 0 1 0 -6.0 0M1634.1 653.60a3.0 3.0 0 1 0 6.0 0a3.0 3.0 0 1 0 -6.0 0M1707.2 653.60a3.0 3.0 0 1 0 6.0 0a3.0 3.0 0 1 0 -6.0 0M1487.3 660.00a3.0 3.0 0 1 0 6.0 0a3.0 3.0 0 1 0 -6.0 0M1634.1 660.00a3.0 3.0 0 1 0 6.0 0a3.0 3.0 0 1 0 -6.0 0M1560.6 666.40a3.0 3.0 0 1 0 6.0 0a3.0 3.0 0 1 0 -6.0 0M1634.1 666.40a3.0 3.0 0 1 0 6.0 0a3.0 3.0 0 1 0 -6.0 0M1707.2 666.40a3.0 3.0 0 1 0 6.0 0a3.0 3.0 0 1 0 -6.0 0M1487.3 672.80a3.0 3.0 0 1 0 6.0 0a3.0 3.0 0 1 0 -6.0 0M1560.6 672.80a3.0 3.0 0 1 0 6.0 0a3.0 3.0 0 1 0 -6.0 0M1634.1 672.80a3.0 3.0 0 1 0 6.0 0a3.0 3.0 0 1 0 -6.0 0M1487.3 679.20a3.0 3.0 0 1 0 6.0 0a3.0 3.0 0 1 0 -6.0 0M1560.6 679.20a3.0 3.0 0 1 0 6.0 0a3.0 3.0 0 1 0 -6.0 0M1634.1 679.20a3.0 3.0 0 1 0 6.0 0a3.0 3.0 0 1 0 -6.0 0M1707.2 679.20a3.0 3.0 0 1 0 6.0 0a3.0 3.0 0 1 0 -6.0 0M1487.3 685.60a3.0 3.0 0 1 0 6.0 0a3.0 3.0 0 1 0 -6.0 0M1560.6 685.60a3.0 3.0 0 1 0 6.0 0a3.0 3.0 0 1 0 -6.0 0M1634.1 685.60a3.0 3.0 0 1 0 6.0 0a3.0 3.0 0 1 0 -6.0 0M1707.2 685.60a3.0 3.0 0 1 0 6.0 0a3.0 3.0 0 1 0 -6.0 0M1487.3 692.00a3.0 3.0 0 1 0 6.0 0a3.0 3.0 0 1 0 -6.0 0M1560.6 692.00a3.0 3.0 0 1 0 6.0 0a3.0 3.0 0 1 0 -6.0 0M1634.1 692.00a3.0 3.0 0 1 0 6.0 0a3.0 3.0 0 1 0 -6.0 0M1707.2 692.00a3.0 3.0 0 1 0 6.0 0a3.0 3.0 0 1 0 -6.0 0M1487.3 698.40a3.0 3.0 0 1 0 6.0 0a3.0 3.0 0 1 0 -6.0 0M1560.6 698.40a3.0 3.0 0 1 0 6.0 0a3.0 3.0 0 1 0 -6.0 0M1634.1 698.40a3.0 3.0 0 1 0 6.0 0a3.0 3.0 0 1 0 -6.0 0M1707.2 698.40a3.0 3.0 0 1 0 6.0 0a3.0 3.0 0 1 0 -6.0 0M1487.3 704.60a3.0 3.0 0 1 0 6.0 0a3.0 3.0 0 1 0 -6.0 0M1560.6 704.60a3.0 3.0 0 1 0 6.0 0a3.0 3.0 0 1 0 -6.0 0M1634.1 704.60a3.0 3.0 0 1 0 6.0 0a3.0 3.0 0 1 0 -6.0 0M1707.2 704.60a3.0 3.0 0 1 0 6.0 0a3.0 3.0 0 1 0 -6.0 0M1487.3 711.20a3.0 3.0 0 1 0 6.0 0a3.0 3.0 0 1 0 -6.0 0M1560.6 711.20a3.0 3.0 0 1 0 6.0 0a3.0 3.0 0 1 0 -6.0 0M1634.1 711.20a3.0 3.0 0 1 0 6.0 0a3.0 3.0 0 1 0 -6.0 0M1707.2 711.20a3.0 3.0 0 1 0 6.0 0a3.0 3.0 0 1 0 -6.0 0M1487.3 717.60a3.0 3.0 0 1 0 6.0 0a3.0 3.0 0 1 0 -6.0 0M1560.6 717.60a3.0 3.0 0 1 0 6.0 0a3.0 3.0 0 1 0 -6.0 0M1634.1 717.60a3.0 3.0 0 1 0 6.0 0a3.0 3.0 0 1 0 -6.0 0M1487.3 724.00a3.0 3.0 0 1 0 6.0 0a3.0 3.0 0 1 0 -6.0 0M1560.6 724.00a3.0 3.0 0 1 0 6.0 0a3.0 3.0 0 1 0 -6.0 0M1634.1 724.00a3.0 3.0 0 1 0 6.0 0a3.0 3.0 0 1 0 -6.0 0M1707.2 724.00a3.0 3.0 0 1 0 6.0 0a3.0 3.0 0 1 0 -6.0 0M1487.3 730.50a3.0 3.0 0 1 0 6.0 0a3.0 3.0 0 1 0 -6.0 0M1560.6 730.50a3.0 3.0 0 1 0 6.0 0a3.0 3.0 0 1 0 -6.0 0M1634.1 730.50a3.0 3.0 0 1 0 6.0 0a3.0 3.0 0 1 0 -6.0 0M1707.2 730.50a3.0 3.0 0 1 0 6.0 0a3.0 3.0 0 1 0 -6.0 0M1487.3 736.90a3.0 3.0 0 1 0 6.0 0a3.0 3.0 0 1 0 -6.0 0M1560.6 736.90a3.0 3.0 0 1 0 6.0 0a3.0 3.0 0 1 0 -6.0 0M1634.1 736.90a3.0 3.0 0 1 0 6.0 0a3.0 3.0 0 1 0 -6.0 0M1707.2 743.30a3.0 3.0 0 1 0 6.0 0a3.0 3.0 0 1 0 -6.0 0M1487.3 749.70a3.0 3.0 0 1 0 6.0 0a3.0 3.0 0 1 0 -6.0 0M1560.6 749.70a3.0 3.0 0 1 0 6.0 0a3.0 3.0 0 1 0 -6.0 0" fill="#d89f12"/><path d="M1969.0 190.30V198.27M2188.2 190.30V198.27M2042.0 190.30V198.27M2115.0 190.30V198.27M1969.0 198.27V206.24M2188.2 198.27V206.24M2042.0 198.27V206.24M2115.0 198.27V206.24M2042.0 206.24V214.21M1969.0 206.24V214.21M2188.2 206.24V214.21M2115.0 206.24V214.21M1969.0 214.21V222.19M2188.2 214.21V222.19M2042.0 214.21V222.19M2115.0 214.21V222.19M1969.0 222.19V230.16M2188.2 222.19V230.16M2042.0 222.19V230.16M2115.0 222.19V230.16M1969.0 230.16V238.13M2188.2 230.16V238.13M2042.0 230.16V238.13M2115.0 230.16V238.13M1969.0 238.13V246.10M2188.2 238.13V246.10M2042.0 238.13V246.10M1969.0 246.10V254.07M2188.2 246.10V254.07M2042.0 246.10V254.07M1969.0 254.07V262.04M2188.2 254.07V262.04M2042.0 254.07V262.04M2115.0 254.07V262.04M1969.0 262.04V270.01M2188.2 262.04V270.01M2042.0 262.04V270.01M1969.0 270.01V277.99M2188.2 270.01V277.99M2042.0 270.01V277.99M1969.0 277.99V285.96M2042.0 277.99V285.96M1969.0 285.96V293.93M2042.0 285.96V293.93M1969.0 293.93V301.90M2042.0 293.93V301.90M2115.0 293.93V301.90M1969.0 301.90V309.87M2188.2 301.90V309.87M2042.0 301.90V309.87M2115.0 301.90V309.87M1969.0 309.87V317.84M2188.2 309.87V317.84M2042.0 309.87V317.84M2115.0 309.87V317.84" stroke="#0e8585" stroke-width="3.0" fill="none"/><path d="M1969.0 325.81V333.79M2188.2 325.81V333.79M2042.0 325.81V333.79M2115.0 325.81V333.79M1969.0 333.79V341.76M2188.2 333.79V341.76M2042.0 333.79V341.76M2115.0 333.79V341.76M1969.0 341.76V349.73M2188.2 341.76V349.73M2042.0 341.76V349.73M2115.0 341.76V349.73M1969.0 349.73V357.70M2188.2 349.73V357.70M2042.0 349.73V357.70M2115.0 349.73V357.70M1969.0 357.70V365.67M2042.0 357.70V365.67M2115.0 357.70V365.67M1969.0 365.67V373.64M2042.0 365.67V373.64" stroke="#b41313" stroke-width="3.0" fill="none"/><path d="M1969.0 381.61V389.59M2115.0 381.61V389.59M1969.0 389.59V397.56M2115.0 389.59V397.56M1969.0 397.56V405.53M2042.0 397.56V405.53M2115.0 397.56V405.53M1969.0 405.53V413.50M2042.0 405.53V413.50M2115.0 405.53V413.50M1969.0 413.50V421.47M2188.2 413.50V421.47M2042.0 413.50V421.47M2115.0 413.50V421.47M1969.0 421.47V429.44M2042.0 421.47V429.44M2115.0 421.47V429.44M1969.0 429.44V437.41M2042.0 429.44V437.41M2115.0 429.44V437.41M1969.0 437.41V445.39M2042.0 437.41V445.39M2115.0 437.41V445.39M1969.0 445.39V453.36" stroke="#0c0c82" stroke-width="3.0" fill="none"/><path d="M1969.0 461.33V469.30M2042.0 461.33V469.30M2115.0 461.33V469.30M1969.0 469.30V477.27M2042.0 469.30V477.27M1969.0 477.27V485.24M2042.0 477.27V485.24M1969.0 485.24V493.21M2188.2 485.24V493.21M2042.0 485.24V493.21M2115.0 485.24V493.21M1969.0 493.21V501.19M2188.2 493.21V501.19M2042.0 493.21V501.19M1969.0 501.19V509.16M2188.2 501.19V509.16M2042.0 501.19V509.16M1969.0 509.16V517.13M2042.0 509.16V517.13M1969.0 517.13V525.10M2042.0 517.13V525.10M1969.0 525.10V533.07M2188.2 525.10V533.07M2042.0 525.10V533.07M1969.0 533.07V541.04M2188.2 533.07V541.04M2042.0 533.07V541.04M1969.0 541.04V549.01M2188.2 541.04V549.01M2042.0 541.04V549.01M2115.0 541.04V549.01M1969.0 549.01V556.99M2188.2 549.01V556.99M2042.0 549.01V556.99M2115.0 549.01V556.99M1969.0 556.99V564.96M2188.2 556.99V564.96M2042.0 556.99V564.96M2115.0 556.99V564.96M1969.0 564.96V572.93M2042.0 564.96V572.93M2115.0 564.96V572.93M1969.0 572.93V580.90M2042.0 572.93V580.90M2115.0 572.93V580.90M1969.0 580.90V588.87M2188.2 580.90V588.87M2042.0 580.90V588.87M2115.0 580.90V588.87M1969.0 588.87V596.84M2042.0 588.87V596.84M2115.0 588.87V596.84M1969.0 596.84V604.81M2042.0 596.84V604.81M2115.0 596.84V604.81M1969.0 604.81V612.79M2188.2 604.81V612.79M2042.0 604.81V612.79M1969.0 612.79V620.76M2188.2 612.79V620.76M2042.0 612.79V620.76M1969.0 620.76V628.73M2188.2 620.76V628.73M2042.0 620.76V628.73M2115.0 620.76V628.73M1969.0 628.73V636.70M2188.2 628.73V636.70M2042.0 628.73V636.70M2115.0 628.73V636.70M2042.0 636.70V644.67M2042.0 644.67V652.64M1969.0 652.64V660.61M2188.2 652.64V660.61M2042.0 652.64V660.61M2115.0 652.64V660.61M1969.0 660.61V668.59M2188.2 660.61V668.59M2042.0 660.61V668.59M2115.0 660.61V668.59M1969.0 668.59V676.56M2042.0 668.59V676.56M1969.0 676.56V684.53M2042.0 676.56V684.53M1969.0 684.53V692.50M2042.0 684.53V692.50M2042.0 692.50V700.47M2042.0 700.47V708.44M2188.2 700.47V708.44M1969.0 708.44V716.41M2188.2 708.44V716.41M2042.0 708.44V716.41M1969.0 716.41V724.39M2188.2 716.41V724.39M2042.0 716.41V724.39M1969.0 724.39V732.36M2188.2 724.39V732.36M2042.0 724.39V732.36M2115.0 724.39V732.36M1969.0 732.36V740.33M2188.2 732.36V740.33M2042.0 732.36V740.33M2115.0 732.36V740.33M1969.0 740.33V748.30M2042.0 740.33V748.30M2115.0 740.33V748.30" stroke="#d89f12" stroke-width="3.0" fill="none"/><path d="M1969.0 190.30H2188.2M1969.0 198.27H2188.2M1969.0 206.24H2188.2M2042.0 214.21H2188.2M1969.0 222.19H2188.2M1969.0 230.16H2188.2M1969.0 238.13H2188.2M1969.0 246.10H2188.2M1969.0 254.07H2188.2M1969.0 262.04H2188.2M1969.0 270.01H2188.2M1969.0 277.99H2188.2M1969.0 285.96H2042.0M1969.0 293.93H2115.0M1969.0 301.90H2188.2M1969.0 309.87H2188.2M1969.0 317.84H2188.2" stroke="#267b7b" stroke-width="2.1" fill="none"/><path d="M1969.0 325.81H2188.2M1969.0 333.79H2188.2M1969.0 341.76H2188.2M1969.0 349.73H2188.2M1969.0 357.70H2188.2M1969.0 365.67H2115.0M1969.0 373.64H2042.0" stroke="#921a1a" stroke-width="2.1" fill="none"/><path d="M1969.0 381.61H2188.2M1969.0 389.59H2115.0M1969.0 397.56H2115.0M1969.0 405.53H2115.0M1969.0 413.50H2188.2M1969.0 421.47H2188.2M1969.0 429.44H2115.0M1969.0 437.41H2188.2M1969.0 445.39H2115.0M1969.0 453.36H2188.2" stroke="#17175e" stroke-width="2.1" fill="none"/><path d="M1969.0 461.33H2188.2M1969.0 469.30H2115.0M1969.0 477.27H2042.0M1969.0 485.24H2188.2M1969.0 493.21H2188.2M1969.0 501.19H2188.2M1969.0 509.16H2188.2M1969.0 517.13H2042.0M1969.0 525.10H2188.2M1969.0 533.07H2188.2M1969.0 541.04H2188.2M1969.0 549.01H2188.2M1969.0 556.99H2188.2M1969.0 564.96H2188.2M1969.0 572.93H2115.0M1969.0 580.90H2188.2M1969.0 588.87H2188.2M1969.0 596.84H2115.0M1969.0 604.81H2188.2M1969.0 612.79H2188.2M1969.0 620.76H2188.2M1969.0 628.73H2188.2M1969.0 636.70H2188.2M1969.0 652.64H2188.2M1969.0 660.61H2188.2M1969.0 668.59H2188.2M1969.0 676.56H2042.0M1969.0 684.53H2188.2M1969.0 692.50H2042.0M2042.0 700.47H2188.2M1969.0 708.44H2188.2M1969.0 716.41H2188.2M1969.0 724.39H2188.2M1969.0 732.36H2115.0M1969.0 740.33H2188.2M1969.0 748.30H2115.0" stroke="#bc9231" stroke-width="2.1" fill="none"/><path d="M1966.0 190.30a3.0 3.0 0 1 0 6.0 0a3.0 3.0 0 1 0 -6.0 0M2039.0 190.30a3.0 3.0 0 1 0 6.0 0a3.0 3.0 0 1 0 -6.0 0M2112.0 190.30a3.0 3.0 0 1 0 6.0 0a3.0 3.0 0 1 0 -6.0 0M2185.2 190.30a3.0 3.0 0 1 0 6.0 0a3.0 3.0 0 1 0 -6.0 0M1966.0 198.27a3.0 3.0 0 1 0 6.0 0a3.0 3.0 0 1 0 -6.0 0M2039.0 198.27a3.0 3.0 0 1 0 6.0 0a3.0 3.0 0 1 0 -6.0 0M2112.0 198.27a3.0 3.0 0 1 0 6.0 0a3.0 3.0 0 1 0 -6.0 0M2185.2 198.27a3.0 3.0 0 1 0 6.0 0a3.0 3.0 0 1 0 -6.0 0M1966.0 206.24a3.0 3.0 0 1 0 6.0 0a3.0 3.0 0 1 0 -6.0 0M2039.0 206.24a3.0 3.0 0 1 0 6.0 0a3.0 3.0 0 1 0 -6.0 0M2112.0 206.24a3.0 3.0 0 1 0 6.0 0a3.0 3.0 0 1 0 -6.0 0M2185.2 206.24a3.0 3.0 0 1 0 6.0 0a3.0 3.0 0 1 0 -6.0 0M2039.0 214.21a3.0 3.0 0 1 0 6.0 0a3.0 3.0 0 1 0 -6.0 0M2112.0 214.21a3.0 3.0 0 1 0 6.0 0a3.0 3.0 0 1 0 -6.0 0M2185.2 214.21a3.0 3.0 0 1 0 6.0 0a3.0 3.0 0 1 0 -6.0 0M1966.0 214.21a3.0 3.0 0 1 0 6.0 0a3.0 3.0 0 1 0 -6.0 0M1966.0 222.19a3.0 3.0 0 1 0 6.0 0a3.0 3.0 0 1 0 -6.0 0M2039.0 222.19a3.0 3.0 0 1 0 6.0 0a3.0 3.0 0 1 0 -6.0 0M2112.0 222.19a3.0 3.0 0 1 0 6.0 0a3.0 3.0 0 1 0 -6.0 0M2185.2 222.19a3.0 3.0 0 1 0 6.0 0a3.0 3.0 0 1 0 -6.0 0M1966.0 230.16a3.0 3.0 0 1 0 6.0 0a3.0 3.0 0 1 0 -6.0 0M2039.0 230.16a3.0 3.0 0 1 0 6.0 0a3.0 3.0 0 1 0 -6.0 0M2112.0 230.16a3.0 3.0 0 1 0 6.0 0a3.0 3.0 0 1 0 -6.0 0M2185.2 230.16a3.0 3.0 0 1 0 6.0 0a3.0 3.0 0 1 0 -6.0 0M1966.0 238.13a3.0 3.0 0 1 0 6.0 0a3.0 3.0 0 1 0 -6.0 0M2039.0 238.13a3.0 3.0 0 1 0 6.0 0a3.0 3.0 0 1 0 -6.0 0M2112.0 238.13a3.0 3.0 0 1 0 6.0 0a3.0 3.0 0 1 0 -6.0 0M2185.2 238.13a3.0 3.0 0 1 0 6.0 0a3.0 3.0 0 1 0 -6.0 0M1966.0 246.10a3.0 3.0 0 1 0 6.0 0a3.0 3.0 0 1 0 -6.0 0M2039.0 246.10a3.0 3.0 0 1 0 6.0 0a3.0 3.0 0 1 0 -6.0 0M2185.2 246.10a3.0 3.0 0 1 0 6.0 0a3.0 3.0 0 1 0 -6.0 0M1966.0 254.07a3.0 3.0 0 1 0 6.0 0a3.0 3.0 0 1 0 -6.0 0M2039.0 254.07a3.0 3.0 0 1 0 6.0 0a3.0 3.0 0 1 0 -6.0 0M2112.0 254.07a3.0 3.0 0 1 0 6.0 0a3.0 3.0 0 1 0 -6.0 0M2185.2 254.07a3.0 3.0 0 1 0 6.0 0a3.0 3.0 0 1 0 -6.0 0M1966.0 262.04a3.0 3.0 0 1 0 6.0 0a3.0 3.0 0 1 0 -6.0 0M2039.0 262.04a3.0 3.0 0 1 0 6.0 0a3.0 3.0 0 1 0 -6.0 0M2112.0 262.04a3.0 3.0 0 1 0 6.0 0a3.0 3.0 0 1 0 -6.0 0M2185.2 262.04a3.0 3.0 0 1 0 6.0 0a3.0 3.0 0 1 0 -6.0 0M1966.0 270.01a3.0 3.0 0 1 0 6.0 0a3.0 3.0 0 1 0 -6.0 0M2039.0 270.01a3.0 3.0 0 1 0 6.0 0a3.0 3.0 0 1 0 -6.0 0M2185.2 270.01a3.0 3.0 0 1 0 6.0 0a3.0 3.0 0 1 0 -6.0 0M1966.0 277.99a3.0 3.0 0 1 0 6.0 0a3.0 3.0 0 1 0 -6.0 0M2039.0 277.99a3.0 3.0 0 1 0 6.0 0a3.0 3.0 0 1 0 -6.0 0M2112.0 277.99a3.0 3.0 0 1 0 6.0 0a3.0 3.0 0 1 0 -6.0 0M2185.2 277.99a3.0 3.0 0 1 0 6.0 0a3.0 3.0 0 1 0 -6.0 0M1966.0 285.96a3.0 3.0 0 1 0 6.0 0a3.0 3.0 0 1 0 -6.0 0M2039.0 285.96a3.0 3.0 0 1 0 6.0 0a3.0 3.0 0 1 0 -6.0 0M1966.0 293.93a3.0 3.0 0 1 0 6.0 0a3.0 3.0 0 1 0 -6.0 0M2039.0 293.93a3.0 3.0 0 1 0 6.0 0a3.0 3.0 0 1 0 -6.0 0M2112.0 293.93a3.0 3.0 0 1 0 6.0 0a3.0 3.0 0 1 0 -6.0 0M1966.0 301.90a3.0 3.0 0 1 0 6.0 0a3.0 3.0 0 1 0 -6.0 0M2039.0 301.90a3.0 3.0 0 1 0 6.0 0a3.0 3.0 0 1 0 -6.0 0M2112.0 301.90a3.0 3.0 0 1 0 6.0 0a3.0 3.0 0 1 0 -6.0 0M2185.2 301.90a3.0 3.0 0 1 0 6.0 0a3.0 3.0 0 1 0 -6.0 0M1966.0 309.87a3.0 3.0 0 1 0 6.0 0a3.0 3.0 0 1 0 -6.0 0M2039.0 309.87a3.0 3.0 0 1 0 6.0 0a3.0 3.0 0 1 0 -6.0 0M2112.0 309.87a3.0 3.0 0 1 0 6.0 0a3.0 3.0 0 1 0 -6.0 0M2185.2 309.87a3.0 3.0 0 1 0 6.0 0a3.0 3.0 0 1 0 -6.0 0M1966.0 317.84a3.0 3.0 0 1 0 6.0 0a3.0 3.0 0 1 0 -6.0 0M2039.0 317.84a3.0 3.0 0 1 0 6.0 0a3.0 3.0 0 1 0 -6.0 0M2112.0 317.84a3.0 3.0 0 1 0 6.0 0a3.0 3.0 0 1 0 -6.0 0M2185.2 317.84a3.0 3.0 0 1 0 6.0 0a3.0 3.0 0 1 0 -6.0 0" fill="#0e8585"/><path d="M1966.0 325.81a3.0 3.0 0 1 0 6.0 0a3.0 3.0 0 1 0 -6.0 0M2039.0 325.81a3.0 3.0 0 1 0 6.0 0a3.0 3.0 0 1 0 -6.0 0M2112.0 325.81a3.0 3.0 0 1 0 6.0 0a3.0 3.0 0 1 0 -6.0 0M2185.2 325.81a3.0 3.0 0 1 0 6.0 0a3.0 3.0 0 1 0 -6.0 0M1966.0 333.79a3.0 3.0 0 1 0 6.0 0a3.0 3.0 0 1 0 -6.0 0M2039.0 333.79a3.0 3.0 0 1 0 6.0 0a3.0 3.0 0 1 0 -6.0 0M2112.0 333.79a3.0 3.0 0 1 0 6.0 0a3.0 3.0 0 1 0 -6.0 0M2185.2 333.79a3.0 3.0 0 1 0 6.0 0a3.0 3.0 0 1 0 -6.0 0M1966.0 341.76a3.0 3.0 0 1 0 6.0 0a3.0 3.0 0 1 0 -6.0 0M2039.0 341.76a3.0 3.0 0 1 0 6.0 0a3.0 3.0 0 1 0 -6.0 0M2112.0 341.76a3.0 3.0 0 1 0 6.0 0a3.0 3.0 0 1 0 -6.0 0M2185.2 341.76a3.0 3.0 0 1 0 6.0 0a3.0 3.0 0 1 0 -6.0 0M1966.0 349.73a3.0 3.0 0 1 0 6.0 0a3.0 3.0 0 1 0 -6.0 0M2039.0 349.73a3.0 3.0 0 1 0 6.0 0a3.0 3.0 0 1 0 -6.0 0M2112.0 349.73a3.0 3.0 0 1 0 6.0 0a3.0 3.0 0 1 0 -6.0 0M2185.2 349.73a3.0 3.0 0 1 0 6.0 0a3.0 3.0 0 1 0 -6.0 0M1966.0 357.70a3.0 3.0 0 1 0 6.0 0a3.0 3.0 0 1 0 -6.0 0M2039.0 357.70a3.0 3.0 0 1 0 6.0 0a3.0 3.0 0 1 0 -6.0 0M2112.0 357.70a3.0 3.0 0 1 0 6.0 0a3.0 3.0 0 1 0 -6.0 0M2185.2 357.70a3.0 3.0 0 1 0 6.0 0a3.0 3.0 0 1 0 -6.0 0M1966.0 365.67a3.0 3.0 0 1 0 6.0 0a3.0 3.0 0 1 0 -6.0 0M2039.0 365.67a3.0 3.0 0 1 0 6.0 0a3.0 3.0 0 1 0 -6.0 0M2112.0 365.67a3.0 3.0 0 1 0 6.0 0a3.0 3.0 0 1 0 -6.0 0M1966.0 373.64a3.0 3.0 0 1 0 6.0 0a3.0 3.0 0 1 0 -6.0 0M2039.0 373.64a3.0 3.0 0 1 0 6.0 0a3.0 3.0 0 1 0 -6.0 0" fill="#b41313"/><path d="M1966.0 381.61a3.0 3.0 0 1 0 6.0 0a3.0 3.0 0 1 0 -6.0 0M2039.0 381.61a3.0 3.0 0 1 0 6.0 0a3.0 3.0 0 1 0 -6.0 0M2112.0 381.61a3.0 3.0 0 1 0 6.0 0a3.0 3.0 0 1 0 -6.0 0M2185.2 381.61a3.0 3.0 0 1 0 6.0 0a3.0 3.0 0 1 0 -6.0 0M1966.0 389.59a3.0 3.0 0 1 0 6.0 0a3.0 3.0 0 1 0 -6.0 0M2112.0 389.59a3.0 3.0 0 1 0 6.0 0a3.0 3.0 0 1 0 -6.0 0M1966.0 397.56a3.0 3.0 0 1 0 6.0 0a3.0 3.0 0 1 0 -6.0 0M2039.0 397.56a3.0 3.0 0 1 0 6.0 0a3.0 3.0 0 1 0 -6.0 0M2112.0 397.56a3.0 3.0 0 1 0 6.0 0a3.0 3.0 0 1 0 -6.0 0M1966.0 405.53a3.0 3.0 0 1 0 6.0 0a3.0 3.0 0 1 0 -6.0 0M2039.0 405.53a3.0 3.0 0 1 0 6.0 0a3.0 3.0 0 1 0 -6.0 0M2112.0 405.53a3.0 3.0 0 1 0 6.0 0a3.0 3.0 0 1 0 -6.0 0M1966.0 413.50a3.0 3.0 0 1 0 6.0 0a3.0 3.0 0 1 0 -6.0 0M2039.0 413.50a3.0 3.0 0 1 0 6.0 0a3.0 3.0 0 1 0 -6.0 0M2112.0 413.50a3.0 3.0 0 1 0 6.0 0a3.0 3.0 0 1 0 -6.0 0M2185.2 413.50a3.0 3.0 0 1 0 6.0 0a3.0 3.0 0 1 0 -6.0 0M1966.0 421.47a3.0 3.0 0 1 0 6.0 0a3.0 3.0 0 1 0 -6.0 0M2039.0 421.47a3.0 3.0 0 1 0 6.0 0a3.0 3.0 0 1 0 -6.0 0M2112.0 421.47a3.0 3.0 0 1 0 6.0 0a3.0 3.0 0 1 0 -6.0 0M2185.2 421.47a3.0 3.0 0 1 0 6.0 0a3.0 3.0 0 1 0 -6.0 0M1966.0 429.44a3.0 3.0 0 1 0 6.0 0a3.0 3.0 0 1 0 -6.0 0M2039.0 429.44a3.0 3.0 0 1 0 6.0 0a3.0 3.0 0 1 0 -6.0 0M2112.0 429.44a3.0 3.0 0 1 0 6.0 0a3.0 3.0 0 1 0 -6.0 0M1966.0 437.41a3.0 3.0 0 1 0 6.0 0a3.0 3.0 0 1 0 -6.0 0M2039.0 437.41a3.0 3.0 0 1 0 6.0 0a3.0 3.0 0 1 0 -6.0 0M2112.0 437.41a3.0 3.0 0 1 0 6.0 0a3.0 3.0 0 1 0 -6.0 0M2185.2 437.41a3.0 3.0 0 1 0 6.0 0a3.0 3.0 0 1 0 -6.0 0M1966.0 445.39a3.0 3.0 0 1 0 6.0 0a3.0 3.0 0 1 0 -6.0 0M2039.0 445.39a3.0 3.0 0 1 0 6.0 0a3.0 3.0 0 1 0 -6.0 0M2112.0 445.39a3.0 3.0 0 1 0 6.0 0a3.0 3.0 0 1 0 -6.0 0M1966.0 453.36a3.0 3.0 0 1 0 6.0 0a3.0 3.0 0 1 0 -6.0 0M2185.2 453.36a3.0 3.0 0 1 0 6.0 0a3.0 3.0 0 1 0 -6.0 0" fill="#0c0c82"/><path d="M1966.0 461.33a3.0 3.0 0 1 0 6.0 0a3.0 3.0 0 1 0 -6.0 0M2039.0 461.33a3.0 3.0 0 1 0 6.0 0a3.0 3.0 0 1 0 -6.0 0M2112.0 461.33a3.0 3.0 0 1 0 6.0 0a3.0 3.0 0 1 0 -6.0 0M2185.2 461.33a3.0 3.0 0 1 0 6.0 0a3.0 3.0 0 1 0 -6.0 0M1966.0 469.30a3.0 3.0 0 1 0 6.0 0a3.0 3.0 0 1 0 -6.0 0M2039.0 469.30a3.0 3.0 0 1 0 6.0 0a3.0 3.0 0 1 0 -6.0 0M2112.0 469.30a3.0 3.0 0 1 0 6.0 0a3.0 3.0 0 1 0 -6.0 0M1966.0 477.27a3.0 3.0 0 1 0 6.0 0a3.0 3.0 0 1 0 -6.0 0M2039.0 477.27a3.0 3.0 0 1 0 6.0 0a3.0 3.0 0 1 0 -6.0 0M1966.0 485.24a3.0 3.0 0 1 0 6.0 0a3.0 3.0 0 1 0 -6.0 0M2039.0 485.24a3.0 3.0 0 1 0 6.0 0a3.0 3.0 0 1 0 -6.0 0M2112.0 485.24a3.0 3.0 0 1 0 6.0 0a3.0 3.0 0 1 0 -6.0 0M2185.2 485.24a3.0 3.0 0 1 0 6.0 0a3.0 3.0 0 1 0 -6.0 0M1966.0 493.21a3.0 3.0 0 1 0 6.0 0a3.0 3.0 0 1 0 -6.0 0M2039.0 493.21a3.0 3.0 0 1 0 6.0 0a3.0 3.0 0 1 0 -6.0 0M2112.0 493.21a3.0 3.0 0 1 0 6.0 0a3.0 3.0 0 1 0 -6.0 0M2185.2 493.21a3.0 3.0 0 1 0 6.0 0a3.0 3.0 0 1 0 -6.0 0M1966.0 501.19a3.0 3.0 0 1 0 6.0 0a3.0 3.0 0 1 0 -6.0 0M2039.0 501.19a3.0 3.0 0 1 0 6.0 0a3.0 3.0 0 1 0 -6.0 0M2185.2 501.19a3.0 3.0 0 1 0 6.0 0a3.0 3.0 0 1 0 -6.0 0M1966.0 509.16a3.0 3.0 0 1 0 6.0 0a3.0 3.0 0 1 0 -6.0 0M2039.0 509.16a3.0 3.0 0 1 0 6.0 0a3.0 3.0 0 1 0 -6.0 0M2112.0 509.16a3.0 3.0 0 1 0 6.0 0a3.0 3.0 0 1 0 -6.0 0M2185.2 509.16a3.0 3.0 0 1 0 6.0 0a3.0 3.0 0 1 0 -6.0 0M1966.0 517.13a3.0 3.0 0 1 0 6.0 0a3.0 3.0 0 1 0 -6.0 0M2039.0 517.13a3.0 3.0 0 1 0 6.0 0a3.0 3.0 0 1 0 -6.0 0M1966.0 525.10a3.0 3.0 0 1 0 6.0 0a3.0 3.0 0 1 0 -6.0 0M2039.0 525.10a3.0 3.0 0 1 0 6.0 0a3.0 3.0 0 1 0 -6.0 0M2112.0 525.10a3.0 3.0 0 1 0 6.0 0a3.0 3.0 0 1 0 -6.0 0M2185.2 525.10a3.0 3.0 0 1 0 6.0 0a3.0 3.0 0 1 0 -6.0 0M1966.0 533.07a3.0 3.0 0 1 0 6.0 0a3.0 3.0 0 1 0 -6.0 0M2039.0 533.07a3.0 3.0 0 1 0 6.0 0a3.0 3.0 0 1 0 -6.0 0M2185.2 533.07a3.0 3.0 0 1 0 6.0 0a3.0 3.0 0 1 0 -6.0 0M1966.0 541.04a3.0 3.0 0 1 0 6.0 0a3.0 3.0 0 1 0 -6.0 0M2039.0 541.04a3.0 3.0 0 1 0 6.0 0a3.0 3.0 0 1 0 -6.0 0M2112.0 541.04a3.0 3.0 0 1 0 6.0 0a3.0 3.0 0 1 0 -6.0 0M2185.2 541.04a3.0 3.0 0 1 0 6.0 0a3.0 3.0 0 1 0 -6.0 0M1966.0 549.01a3.0 3.0 0 1 0 6.0 0a3.0 3.0 0 1 0 -6.0 0M2039.0 549.01a3.0 3.0 0 1 0 6.0 0a3.0 3.0 0 1 0 -6.0 0M2112.0 549.01a3.0 3.0 0 1 0 6.0 0a3.0 3.0 0 1 0 -6.0 0M2185.2 549.01a3.0 3.0 0 1 0 6.0 0a3.0 3.0 0 1 0 -6.0 0M1966.0 556.99a3.0 3.0 0 1 0 6.0 0a3.0 3.0 0 1 0 -6.0 0M2039.0 556.99a3.0 3.0 0 1 0 6.0 0a3.0 3.0 0 1 0 -6.0 0M2112.0 556.99a3.0 3.0 0 1 0 6.0 0a3.0 3.0 0 1 0 -6.0 0M2185.2 556.99a3.0 3.0 0 1 0 6.0 0a3.0 3.0 0 1 0 -6.0 0M1966.0 564.96a3.0 3.0 0 1 0 6.0 0a3.0 3.0 0 1 0 -6.0 0M2039.0 564.96a3.0 3.0 0 1 0 6.0 0a3.0 3.0 0 1 0 -6.0 0M2112.0 564.96a3.0 3.0 0 1 0 6.0 0a3.0 3.0 0 1 0 -6.0 0M2185.2 564.96a3.0 3.0 0 1 0 6.0 0a3.0 3.0 0 1 0 -6.0 0M1966.0 572.93a3.0 3.0 0 1 0 6.0 0a3.0 3.0 0 1 0 -6.0 0M2039.0 572.93a3.0 3.0 0 1 0 6.0 0a3.0 3.0 0 1 0 -6.0 0M2112.0 572.93a3.0 3.0 0 1 0 6.0 0a3.0 3.0 0 1 0 -6.0 0M1966.0 580.90a3.0 3.0 0 1 0 6.0 0a3.0 3.0 0 1 0 -6.0 0M2039.0 580.90a3.0 3.0 0 1 0 6.0 0a3.0 3.0 0 1 0 -6.0 0M2112.0 580.90a3.0 3.0 0 1 0 6.0 0a3.0 3.0 0 1 0 -6.0 0M2185.2 580.90a3.0 3.0 0 1 0 6.0 0a3.0 3.0 0 1 0 -6.0 0M1966.0 588.87a3.0 3.0 0 1 0 6.0 0a3.0 3.0 0 1 0 -6.0 0M2039.0 588.87a3.0 3.0 0 1 0 6.0 0a3.0 3.0 0 1 0 -6.0 0M2112.0 588.87a3.0 3.0 0 1 0 6.0 0a3.0 3.0 0 1 0 -6.0 0M2185.2 588.87a3.0 3.0 0 1 0 6.0 0a3.0 3.0 0 1 0 -6.0 0M1966.0 596.84a3.0 3.0 0 1 0 6.0 0a3.0 3.0 0 1 0 -6.0 0M2039.0 596.84a3.0 3.0 0 1 0 6.0 0a3.0 3.0 0 1 0 -6.0 0M2112.0 596.84a3.0 3.0 0 1 0 6.0 0a3.0 3.0 0 1 0 -6.0 0M1966.0 604.81a3.0 3.0 0 1 0 6.0 0a3.0 3.0 0 1 0 -6.0 0M2039.0 604.81a3.0 3.0 0 1 0 6.0 0a3.0 3.0 0 1 0 -6.0 0M2112.0 604.81a3.0 3.0 0 1 0 6.0 0a3.0 3.0 0 1 0 -6.0 0M2185.2 604.81a3.0 3.0 0 1 0 6.0 0a3.0 3.0 0 1 0 -6.0 0M1966.0 612.79a3.0 3.0 0 1 0 6.0 0a3.0 3.0 0 1 0 -6.0 0M2039.0 612.79a3.0 3.0 0 1 0 6.0 0a3.0 3.0 0 1 0 -6.0 0M2185.2 612.79a3.0 3.0 0 1 0 6.0 0a3.0 3.0 0 1 0 -6.0 0M1966.0 620.76a3.0 3.0 0 1 0 6.0 0a3.0 3.0 0 1 0 -6.0 0M2039.0 620.76a3.0 3.0 0 1 0 6.0 0a3.0 3.0 0 1 0 -6.0 0M2112.0 620.76a3.0 3.0 0 1 0 6.0 0a3.0 3.0 0 1 0 -6.0 0M2185.2 620.76a3.0 3.0 0 1 0 6.0 0a3.0 3.0 0 1 0 -6.0 0M1966.0 628.73a3.0 3.0 0 1 0 6.0 0a3.0 3.0 0 1 0 -6.0 0M2039.0 628.73a3.0 3.0 0 1 0 6.0 0a3.0 3.0 0 1 0 -6.0 0M2112.0 628.73a3.0 3.0 0 1 0 6.0 0a3.0 3.0 0 1 0 -6.0 0M2185.2 628.73a3.0 3.0 0 1 0 6.0 0a3.0 3.0 0 1 0 -6.0 0M1966.0 636.70a3.0 3.0 0 1 0 6.0 0a3.0 3.0 0 1 0 -6.0 0M2039.0 636.70a3.0 3.0 0 1 0 6.0 0a3.0 3.0 0 1 0 -6.0 0M2112.0 636.70a3.0 3.0 0 1 0 6.0 0a3.0 3.0 0 1 0 -6.0 0M2185.2 636.70a3.0 3.0 0 1 0 6.0 0a3.0 3.0 0 1 0 -6.0 0M2039.0 644.67a3.0 3.0 0 1 0 6.0 0a3.0 3.0 0 1 0 -6.0 0M1966.0 652.64a3.0 3.0 0 1 0 6.0 0a3.0 3.0 0 1 0 -6.0 0M2039.0 652.64a3.0 3.0 0 1 0 6.0 0a3.0 3.0 0 1 0 -6.0 0M2112.0 652.64a3.0 3.0 0 1 0 6.0 0a3.0 3.0 0 1 0 -6.0 0M2185.2 652.64a3.0 3.0 0 1 0 6.0 0a3.0 3.0 0 1 0 -6.0 0M1966.0 660.61a3.0 3.0 0 1 0 6.0 0a3.0 3.0 0 1 0 -6.0 0M2039.0 660.61a3.0 3.0 0 1 0 6.0 0a3.0 3.0 0 1 0 -6.0 0M2112.0 660.61a3.0 3.0 0 1 0 6.0 0a3.0 3.0 0 1 0 -6.0 0M2185.2 660.61a3.0 3.0 0 1 0 6.0 0a3.0 3.0 0 1 0 -6.0 0M1966.0 668.59a3.0 3.0 0 1 0 6.0 0a3.0 3.0 0 1 0 -6.0 0M2039.0 668.59a3.0 3.0 0 1 0 6.0 0a3.0 3.0 0 1 0 -6.0 0M2112.0 668.59a3.0 3.0 0 1 0 6.0 0a3.0 3.0 0 1 0 -6.0 0M2185.2 668.59a3.0 3.0 0 1 0 6.0 0a3.0 3.0 0 1 0 -6.0 0M1966.0 676.56a3.0 3.0 0 1 0 6.0 0a3.0 3.0 0 1 0 -6.0 0M2039.0 676.56a3.0 3.0 0 1 0 6.0 0a3.0 3.0 0 1 0 -6.0 0M1966.0 684.53a3.0 3.0 0 1 0 6.0 0a3.0 3.0 0 1 0 -6.0 0M2039.0 684.53a3.0 3.0 0 1 0 6.0 0a3.0 3.0 0 1 0 -6.0 0M2112.0 684.53a3.0 3.0 0 1 0 6.0 0a3.0 3.0 0 1 0 -6.0 0M2185.2 684.53a3.0 3.0 0 1 0 6.0 0a3.0 3.0 0 1 0 -6.0 0M1966.0 692.50a3.0 3.0 0 1 0 6.0 0a3.0 3.0 0 1 0 -6.0 0M2039.0 692.50a3.0 3.0 0 1 0 6.0 0a3.0 3.0 0 1 0 -6.0 0M2039.0 700.47a3.0 3.0 0 1 0 6.0 0a3.0 3.0 0 1 0 -6.0 0M2112.0 700.47a3.0 3.0 0 1 0 6.0 0a3.0 3.0 0 1 0 -6.0 0M2185.2 700.47a3.0 3.0 0 1 0 6.0 0a3.0 3.0 0 1 0 -6.0 0M1966.0 708.44a3.0 3.0 0 1 0 6.0 0a3.0 3.0 0 1 0 -6.0 0M2039.0 708.44a3.0 3.0 0 1 0 6.0 0a3.0 3.0 0 1 0 -6.0 0M2185.2 708.44a3.0 3.0 0 1 0 6.0 0a3.0 3.0 0 1 0 -6.0 0M1966.0 716.41a3.0 3.0 0 1 0 6.0 0a3.0 3.0 0 1 0 -6.0 0M2039.0 716.41a3.0 3.0 0 1 0 6.0 0a3.0 3.0 0 1 0 -6.0 0M2185.2 716.41a3.0 3.0 0 1 0 6.0 0a3.0 3.0 0 1 0 -6.0 0M1966.0 724.39a3.0 3.0 0 1 0 6.0 0a3.0 3.0 0 1 0 -6.0 0M2039.0 724.39a3.0 3.0 0 1 0 6.0 0a3.0 3.0 0 1 0 -6.0 0M2112.0 724.39a3.0 3.0 0 1 0 6.0 0a3.0 3.0 0 1 0 -6.0 0M2185.2 724.39a3.0 3.0 0 1 0 6.0 0a3.0 3.0 0 1 0 -6.0 0M1966.0 732.36a3.0 3.0 0 1 0 6.0 0a3.0 3.0 0 1 0 -6.0 0M2039.0 732.36a3.0 3.0 0 1 0 6.0 0a3.0 3.0 0 1 0 -6.0 0M2112.0 732.36a3.0 3.0 0 1 0 6.0 0a3.0 3.0 0 1 0 -6.0 0M2185.2 732.36a3.0 3.0 0 1 0 6.0 0a3.0 3.0 0 1 0 -6.0 0M1966.0 740.33a3.0 3.0 0 1 0 6.0 0a3.0 3.0 0 1 0 -6.0 0M2039.0 740.33a3.0 3.0 0 1 0 6.0 0a3.0 3.0 0 1 0 -6.0 0M2112.0 740.33a3.0 3.0 0 1 0 6.0 0a3.0 3.0 0 1 0 -6.0 0M2185.2 740.33a3.0 3.0 0 1 0 6.0 0a3.0 3.0 0 1 0 -6.0 0M1966.0 748.30a3.0 3.0 0 1 0 6.0 0a3.0 3.0 0 1 0 -6.0 0M2039.0 748.30a3.0 3.0 0 1 0 6.0 0a3.0 3.0 0 1 0 -6.0 0M2112.0 748.30a3.0 3.0 0 1 0 6.0 0a3.0 3.0 0 1 0 -6.0 0" fill="#d89f12"/><line x1="1491.6" y1="753" x2="1491.6" y2="758.5" stroke="#111" stroke-width="1.5"/><line x1="1563.6" y1="753" x2="1563.6" y2="758.5" stroke="#111" stroke-width="1.5"/><line x1="1637.4" y1="753" x2="1637.4" y2="758.5" stroke="#111" stroke-width="1.5"/><line x1="1709.7" y1="753" x2="1709.7" y2="758.5" stroke="#111" stroke-width="1.5"/><line x1="1968.8" y1="753" x2="1968.8" y2="758.5" stroke="#111" stroke-width="1.5"/><line x1="2042.5" y1="753" x2="2042.5" y2="758.5" stroke="#111" stroke-width="1.5"/><line x1="2114.8" y1="753" x2="2114.8" y2="758.5" stroke="#111" stroke-width="1.5"/><line x1="2189.1" y1="753" x2="2189.1" y2="758.5" stroke="#111" stroke-width="1.5"/><path d="M1836.7 336.5 L1836.7 255.9 A80.6 80.6 0 0 1 1904.75 379.69 Z" fill="#018b87"/><path d="M1836.7 336.5 L1904.75 379.69 A80.6 80.6 0 1 1 1836.7 255.9 Z" fill="#b31f22"/><path d="M2318.3 331.2 L2318.3 250.39999999999998 A80.8 80.8 0 1 1 2240.04 351.29 Z" fill="#018b87"/><path d="M2318.3 331.2 L2240.04 351.29 A80.8 80.8 0 0 1 2318.3 250.39999999999998 Z" fill="#b31f22"/><path d="M1835.7 633.5 L1835.7 552.9 A80.6 80.6 0 0 1 1900.91 586.12 Z" fill="#28288f"/><path d="M1835.7 633.5 L1900.91 586.12 A80.6 80.6 0 1 1 1835.7 552.9 Z" fill="#d5a53a"/><path d="M2318.7 629.4 L2318.7 548.6999999999999 A80.7 80.7 0 0 1 2396.86 609.33 Z" fill="#28288f"/><path d="M2318.7 629.4 L2396.86 609.33 A80.7 80.7 0 1 1 2318.7 548.6999999999999 Z" fill="#d5a53a"/>
<text transform="translate(2.11,34.70) scale(1.0132,1)" font-size="43.5" fill="#000" style="font-weight:bold;">A</text><text transform="translate(30.29,171.50) scale(0.9917,1)" font-size="32.6" fill="#000">T0-Baseline</text><text transform="translate(446.50,144.60) scale(0.9803,1)" font-size="32.4" fill="#000">T1-</text><text transform="translate(358.05,182.40) scale(1.0010,1)" font-size="32.6" fill="#000">EarlyTreatment</text><text transform="translate(676.50,144.60) scale(0.9803,1)" font-size="32.4" fill="#000">T2-</text><text transform="translate(638.07,182.40) scale(0.9929,1)" font-size="32.6" fill="#000">InterReg</text><text transform="translate(1120.80,145.80) scale(0.9971,1)" font-size="32.2" fill="#000">T3-</text><text transform="translate(1076.86,183.20) scale(1.0115,1)" font-size="32.2" fill="#000">End point</text><text transform="translate(435.07,229.90) scale(1.0318,1)" font-size="32.6" fill="#000">Paclitaxel (control)</text><text transform="translate(178.30,341.10) scale(1.0274,1)" font-size="32.3" fill="#000">Adoptive</text><text transform="translate(135.48,378.40) scale(1.0480,1)" font-size="32.3" fill="#000">randomization</text><text transform="translate(166.01,416.20) scale(0.9454,1)" font-size="32.3" fill="#000">HER2– BC</text><text transform="translate(486.96,377.50) scale(0.9755,1)" font-size="33.5" fill="#000">12 weeks</text><text transform="translate(749.70,320.50) scale(0.9872,1)" font-size="32.9" fill="#000">Anthracycline × 4 cycles</text><text transform="translate(1165.92,387.50) scale(0.9544,1)" font-size="33" fill="#000">Surgery</text><text transform="translate(386.41,534.10) scale(1.0168,1)" font-size="32.6" fill="#000">Paclitaxel + Pembrolizumap</text><text transform="translate(189.76,658.80) scale(0.9986,1)" font-size="33" fill="#000">602</text><text transform="translate(154.17,696.30) scale(0.9998,1)" font-size="33" fill="#000">Samples</text><text transform="translate(154.53,733.50) scale(1.0032,1)" font-size="33" fill="#000">received</text><text transform="translate(660.95,658.50) scale(1.0135,1)" font-size="33" fill="#000">595</text><text transform="translate(624.57,696.40) scale(0.9950,1)" font-size="33" fill="#000">Samples</text><text transform="translate(607.79,733.80) scale(0.9981,1)" font-size="33" fill="#000">sequenced</text><text transform="translate(1125.97,658.30) scale(1.0002,1)" font-size="33" fill="#000">546</text><text transform="translate(1089.67,695.40) scale(0.9942,1)" font-size="33" fill="#000">Samples</text><text transform="translate(1070.65,733.50) scale(0.9952,1)" font-size="33" fill="#000">passed QC</text><text transform="translate(365.26,756.50) scale(1.1006,1)" font-size="26" fill="#000">Low sample</text><text transform="translate(346.60,788.40) scale(1.1054,1)" font-size="26" fill="#000">content/unable</text><text transform="translate(385.50,819.70) scale(1.0633,1)" font-size="26" fill="#000">to extract</text><text transform="translate(894.44,754.00) scale(1.0633,1)" font-size="26" fill="#000">Poor</text><text transform="translate(855.40,787.00) scale(1.1104,1)" font-size="26" fill="#000">alignment/</text><text transform="translate(838.71,818.70) scale(1.1011,1)" font-size="26" fill="#000">unsupervised</text><text transform="translate(864.11,850.40) scale(1.0945,1)" font-size="26" fill="#000">clustering</text><text transform="translate(1346.76,34.90) scale(1.0178,1)" font-size="41.5" fill="#000" style="font-weight:bold;">B</text><text transform="translate(1546.82,40.20) scale(1.0031,1)" font-size="31.5" fill="#000">Chemo RD</text><text transform="translate(1546.81,88.20) scale(1.0103,1)" font-size="31.5" fill="#000">Chemo pCR</text><text transform="translate(1855.92,40.60) scale(1.0042,1)" font-size="31.5" fill="#000">Chemo<tspan stroke="#fff" stroke-width="0.45">+</tspan>Pembro RD</text><text transform="translate(1855.91,88.40) scale(1.0059,1)" font-size="31.5" fill="#000">Chemo<tspan stroke="#fff" stroke-width="0.45">+</tspan>Pembro pCR</text><text transform="translate(1529.35,146.00) scale(0.9537,1)" font-size="31.5" fill="#000">HR</text><text transform="translate(1573.43,136.70) scale(1.0417,1)" font-size="24" fill="#000" stroke="#fff" stroke-width="0.4">+</text><text transform="translate(1596.12,146.00) scale(1.0073,1)" font-size="31.5" fill="#000">BC</text><text transform="translate(2027.71,146.00) scale(0.9957,1)" font-size="31.5" fill="#000">TNBC</text><text transform="translate(1785.75,213.80) scale(0.9537,1)" font-size="31.5" fill="#000">HR</text><text transform="translate(1829.83,204.50) scale(1.0417,1)" font-size="24" fill="#000" stroke="#fff" stroke-width="0.4">+</text><text transform="translate(1852.52,213.80) scale(1.0073,1)" font-size="31.5" fill="#000">BC</text><text transform="translate(1723.20,246.50) scale(1.0168,1)" font-size="31.5" fill="#000">Chemo<tspan stroke="#fff" stroke-width="0.45">+</tspan>Pembro</text><text transform="translate(1761.27,449.00) scale(0.9795,1)" font-size="31.5" fill="#000">pCR = 34%</text><text transform="translate(2276.71,203.00) scale(1.0028,1)" font-size="31.5" fill="#000">TNBC</text><text transform="translate(2200.79,237.40) scale(1.0229,1)" font-size="31.5" fill="#000">Chemo<tspan stroke="#fff" stroke-width="0.45">+</tspan>Pembro</text><text transform="translate(2240.19,448.40) scale(0.9720,1)" font-size="31.5" fill="#000">pCR = 71%</text><text transform="translate(1778.15,497.00) scale(0.9537,1)" font-size="31.5" fill="#000">HR</text><text transform="translate(1822.23,487.70) scale(1.0417,1)" font-size="24" fill="#000" stroke="#fff" stroke-width="0.4">+</text><text transform="translate(1844.92,497.00) scale(1.0073,1)" font-size="31.5" fill="#000">BC</text><text transform="translate(1780.20,531.00) scale(1.0143,1)" font-size="31.5" fill="#000">Chemo</text><text transform="translate(1758.25,743.80) scale(0.9406,1)" font-size="31.5" fill="#000">pCR = 15%</text><text transform="translate(2276.00,493.50) scale(1.0218,1)" font-size="31.5" fill="#000">TNBC</text><text transform="translate(2266.98,528.50) scale(1.0325,1)" font-size="31.5" fill="#000">Chemo</text><text transform="translate(2245.89,751.60) scale(0.9720,1)" font-size="31.5" fill="#000">pCR = 21%</text><text transform="translate(1380.00,557.14) rotate(-90) scale(1.0380,1)" font-size="39.5"><tspan style="font-style:italic">n</tspan> sample = 546</text><text transform="translate(1424.80,569.54) rotate(-90) scale(1.0329,1)" font-size="39.5"><tspan style="font-style:italic">N</tspan> patients = 160</text><text transform="translate(1393.50,888.70) rotate(-45) scale(1.0129,1)" font-size="39.7">Baseline</text><text transform="translate(1393.60,968.60) rotate(-45) scale(0.9947,1)" font-size="39.7">EarlyTreatment</text><text transform="translate(1539.80,887.30) rotate(-45) scale(0.9928,1)" font-size="39.7">InterReg</text><text transform="translate(1599.00,902.70) rotate(-45) scale(1.0373,1)" font-size="39.7">End point</text><text transform="translate(1867.70,883.90) rotate(-45) scale(1.0105,1)" font-size="39.7">Baseline</text><text transform="translate(1867.20,969.10) rotate(-45) scale(0.9891,1)" font-size="39.7">EarlyTreatment</text><text transform="translate(2017.30,888.80) rotate(-45) scale(0.9976,1)" font-size="39.7">InterReg</text><text transform="translate(2082.90,903.70) rotate(-45) scale(1.0270,1)" font-size="39.7">End point</text>
</svg>
</body></html>
